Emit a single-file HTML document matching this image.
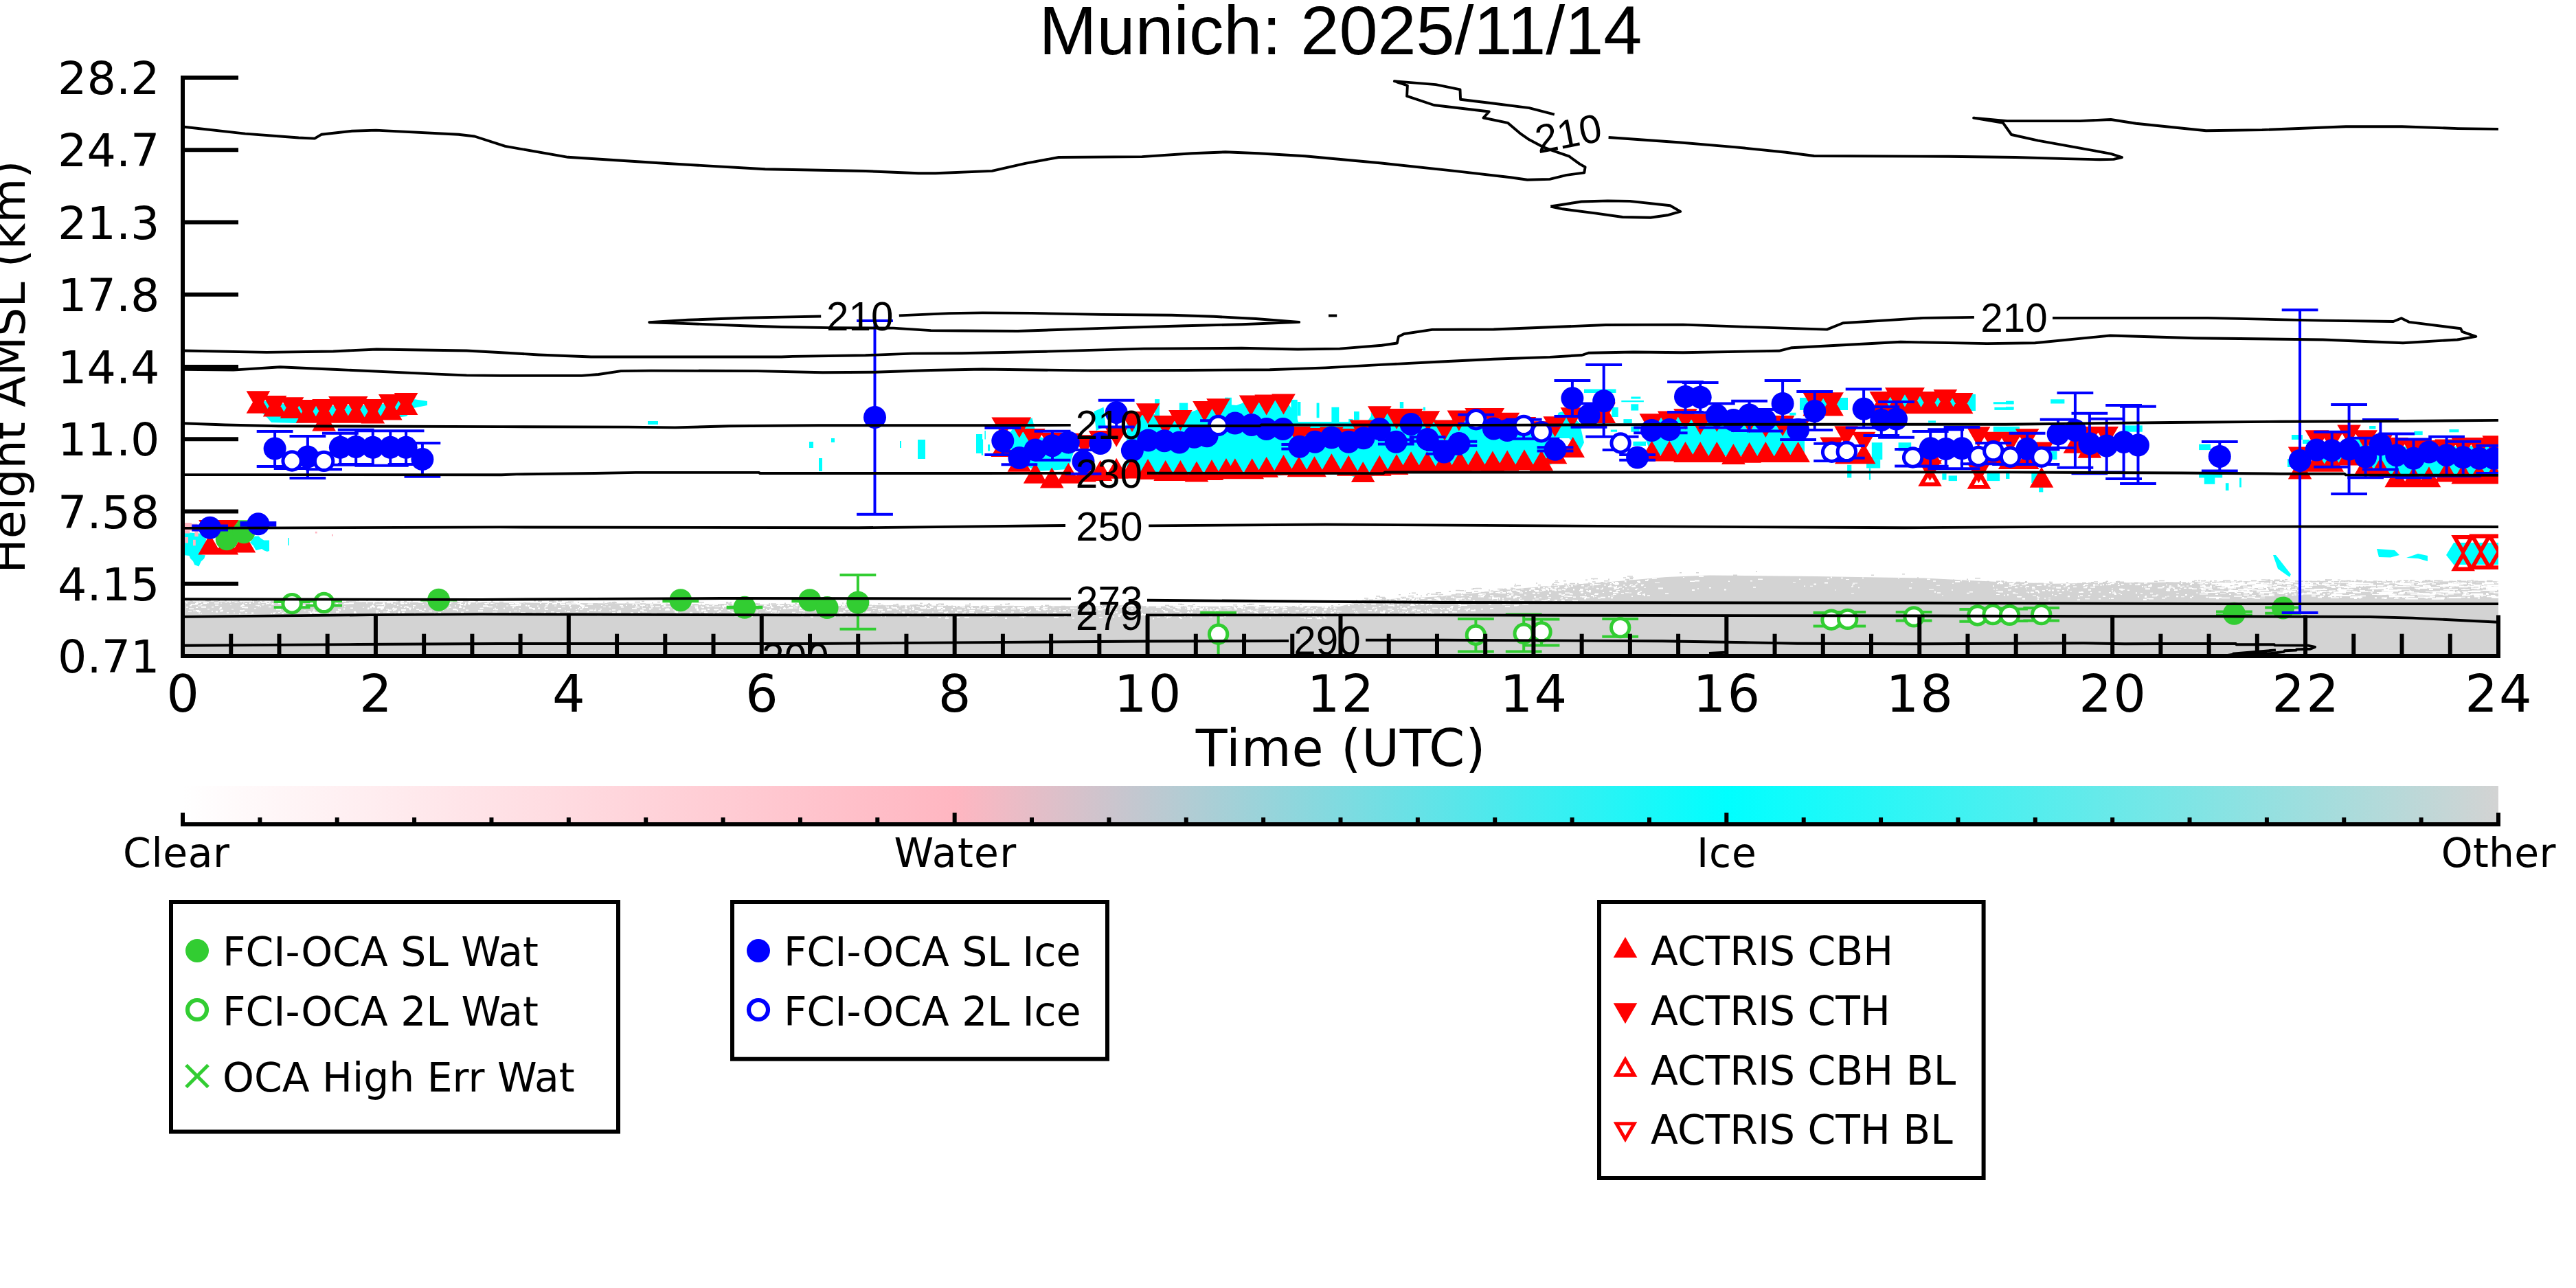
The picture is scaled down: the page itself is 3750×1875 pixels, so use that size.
<!DOCTYPE html>
<html><head><meta charset="utf-8"><title>Munich: 2025/11/14</title>
<style>
html,body{margin:0;padding:0;background:#fff;}
body{width:3750px;height:1875px;overflow:hidden;}
svg{display:block;}
.dj{font-family:"DejaVu Sans","Liberation Sans",sans-serif;fill:#000;}
.lb{font-family:"Liberation Sans","DejaVu Sans",sans-serif;fill:#000;}
</style></head><body>
<svg width="3750" height="1875" viewBox="0 0 3750 1875">
<defs>
<linearGradient id="cb" x1="0" x2="1" y1="0" y2="0">
<stop offset="0" stop-color="#ffffff"/><stop offset="0.3333" stop-color="#ffb6c1"/><stop offset="0.6667" stop-color="#00ffff"/><stop offset="1" stop-color="#d3d3d3"/>
</linearGradient>
<clipPath id="ax"><rect x="266" y="100" width="3371" height="855"/></clipPath>
</defs>
<rect x="0" y="0" width="3750" height="1875" fill="#fff"/>

<g clip-path="url(#ax)">
<path d="M266.0 875.5 L700.0 877.0 L1400.0 882.0 L1950.0 883.0 L1985.0 874.0 L2100.0 868.0 L2220.0 856.0 L2345.0 847.0 L2426.0 840.0 L2489.0 837.5 L2643.0 839.0 L2800.0 841.6 L2909.0 847.0 L2990.0 849.8 L3072.0 848.4 L3208.0 847.0 L3343.0 845.7 L3500.0 847.0 L3637.0 846.4 L3637.0 956.0 L266.0 956.0Z" fill="#d3d3d3"/>
<path d="M1357 890.6h2v1h-2zM1498 888.3h2v1h-2zM1727 883.1h3v1h-3zM3050 851.3h5v1h-5zM2209 880.2h2v1.5h-2zM1242 881.6h3v1.5h-3zM900 888.6h4v1h-4zM2350 855.8h7v1.5h-7zM1484 883.4h7v1.5h-7zM543 882.4h3v2h-3zM665 888.1h2v2h-2zM1412 888.0h7v2h-7zM499 878.7h5v1h-5zM3033 854.8h5v1.5h-5zM833 878.2h7v1.5h-7zM703 881.2h7v2h-7zM539 883.4h2v2h-2zM3174 853.8h3v2h-3zM3490 848.7h18v1.5h-18zM881 879.2h4v1.5h-4zM2319 849.9h7v1h-7zM3470 856.8h8v2h-8zM477 877.9h2v1h-2zM1412 882.0h2v1h-2zM3460 847.1h12v2h-12zM768 881.0h3v2h-3zM3609 854.6h4v1h-4zM2005 895.3h3v1.5h-3zM3323 848.4h12v1.5h-12zM924 882.9h7v1.5h-7zM2926 849.6h4v1.5h-4zM3592 851.9h3v1.5h-3zM1849 888.5h4v1h-4zM2958 861.6h3v1.5h-3zM1876 894.8h3v1h-3zM1600 898.0h5v1.5h-5zM840 879.0h3v1.5h-3zM2325 856.3h3v1.5h-3zM2114 866.7h5v1h-5zM3047 851.9h3v1.5h-3zM3288 863.9h8v1.5h-8zM2057 870.3h3v1.5h-3zM2315 850.5h2v2h-2zM2351 846.9h5v2h-5zM2906 856.9h2v1.5h-2zM2062 891.9h5v1.5h-5zM3372 848.1h4v2h-4zM677 877.3h2v2h-2zM3238 849.2h8v2h-8zM3612 853.1h6v1h-6zM2697 849.8h3v1h-3zM551 891.1h2v1.5h-2zM3450 856.0h12v2h-12zM1699 898.0h5v1h-5zM2965 867.9h2v1.5h-2zM3170 852.1h4v2h-4zM3385 847.2h18v1.5h-18zM3424 849.6h4v1.5h-4zM2383 846.0h3v1.5h-3zM3613 846.6h12v1.5h-12zM1998 878.4h5v2h-5zM3258 850.6h4v1.5h-4zM3596 865.0h3v1.5h-3zM1717 891.8h3v1.5h-3zM2282 851.7h2v1.5h-2zM1173 884.1h3v1.5h-3zM1309 881.4h3v1h-3zM285 876.0h3v1h-3zM1593 890.8h2v1.5h-2zM3225 851.3h4v1.5h-4zM3268 861.5h12v1.5h-12zM3329 856.1h3v1.5h-3zM554 885.1h2v2h-2zM2380 857.5h3v1.5h-3zM2068 870.1h5v2h-5zM1116 882.3h5v1.5h-5zM1235 889.4h2v1h-2zM2285 863.9h5v1.5h-5zM2358 854.0h3v1.5h-3zM3540 849.3h6v1.5h-6zM3418 853.8h12v2h-12zM3612 867.6h3v1h-3zM3473 864.6h6v1h-6zM3288 846.3h8v2h-8zM1668 883.2h3v1h-3zM1360 886.0h2v1h-2zM3301 851.6h8v1h-8zM1481 884.6h2v1.5h-2zM1107 886.1h2v1.5h-2zM2909 847.1h7v2h-7zM3341 855.5h3v1h-3zM3408 857.8h18v1.5h-18zM2119 872.6h3v1.5h-3zM2120 870.7h7v2h-7zM1089 886.8h3v1.5h-3zM948 892.6h3v2h-3zM2048 889.5h2v1.5h-2zM3285 858.7h6v1h-6zM696 888.3h7v2h-7zM3525 847.4h12v2h-12zM3539 847.7h4v1h-4zM3435 859.0h8v1h-8zM2123 882.3h2v1h-2zM698 885.6h5v1h-5zM603 892.2h2v2h-2zM3620 850.7h4v2h-4zM2038 871.3h3v1.5h-3zM454 890.3h5v2h-5zM541 881.1h3v1.5h-3zM1601 885.1h7v1h-7zM1044 890.7h3v1h-3zM3470 848.7h8v2h-8zM3331 856.8h3v1.5h-3zM887 888.6h3v1h-3zM3624 851.0h18v2h-18zM1542 885.5h2v1h-2zM278 879.1h2v1.5h-2zM1770 893.4h3v1h-3zM2393 854.7h3v1h-3zM2970 851.2h2v1.5h-2zM1489 898.0h2v1.5h-2zM3377 860.7h18v1h-18zM350 881.4h3v2h-3zM3009 857.9h2v1.5h-2zM2311 853.8h3v1h-3zM1990 874.8h3v1h-3zM2100 874.7h2v1h-2zM1159 880.8h3v2h-3zM851 883.4h5v1.5h-5zM3097 858.4h3v1.5h-3zM1100 880.9h4v1.5h-4zM1366 898.6h4v1.5h-4zM1829 882.8h7v1.5h-7zM404 876.7h2v1.5h-2zM3397 865.5h12v1.5h-12zM394 876.1h3v1h-3zM2284 853.6h2v1.5h-2zM1644 890.8h2v1.5h-2zM1895 895.0h5v1.5h-5zM1647 885.3h2v1.5h-2zM1661 893.9h7v1.5h-7zM1729 883.2h2v2h-2zM2212 873.1h2v1h-2zM442 888.4h3v1h-3zM1438 883.3h2v1h-2zM3266 865.5h8v1.5h-8zM3057 851.1h3v1.5h-3zM1558 884.4h5v1.5h-5zM2816 860.8h2v2h-2zM2285 863.3h3v2h-3zM1305 885.4h3v2h-3zM1962 879.9h3v2h-3zM628 881.6h2v2h-2zM405 891.0h3v1h-3zM3619 864.1h4v2h-4zM1116 888.1h7v2h-7zM3363 849.1h4v1.5h-4zM1520 886.6h5v1.5h-5zM3205 857.6h6v2h-6zM1532 883.2h3v1h-3zM1756 893.5h2v1.5h-2zM3026 861.5h7v1.5h-7zM1014 887.7h3v1.5h-3zM3281 848.9h3v1h-3zM2065 873.8h2v1.5h-2zM802 889.9h5v1.5h-5zM1785 883.6h5v1.5h-5zM1620 882.4h5v1.5h-5zM2269 863.7h4v2h-4zM1634 882.7h7v1h-7zM3433 848.6h18v2h-18zM3004 853.7h3v1h-3zM3612 854.4h3v2h-3zM1790 883.3h2v1h-2zM3380 849.3h6v2h-6zM3537 868.3h3v1h-3zM3100 849.6h3v1.5h-3zM3229 849.6h18v2h-18zM289 891.5h2v1.5h-2zM2923 858.2h4v1.5h-4zM754 878.0h2v1.5h-2zM3556 846.9h18v1h-18zM3344 846.6h4v1h-4zM3333 846.4h18v1.5h-18zM1873 894.8h5v1.5h-5zM1259 883.3h3v1.5h-3zM3397 862.0h12v2h-12zM372 880.8h7v1h-7zM2077 888.4h2v1.5h-2zM841 879.6h7v1h-7zM1222 890.7h3v1.5h-3zM2380 850.0h3v1h-3zM1519 887.0h4v1.5h-4zM2056 886.0h5v1h-5zM1440 883.1h7v2h-7zM838 889.6h4v1.5h-4zM3246 848.7h18v1.5h-18zM1441 898.0h3v1h-3zM925 879.6h3v1.5h-3zM1731 891.3h2v1.5h-2zM962 879.0h3v2h-3zM2395 843.9h4v2h-4zM287 889.0h5v2h-5zM1037 880.2h3v1.5h-3zM3278 852.4h18v1.5h-18zM1109 885.1h4v2h-4zM2011 892.2h5v1.5h-5zM3432 847.2h8v1.5h-8zM2023 894.2h2v1.5h-2zM1464 884.6h3v1h-3zM313 880.3h5v1.5h-5zM2220 860.0h3v1.5h-3zM3613 854.0h4v1h-4zM1843 889.7h2v2h-2zM1168 882.5h3v1.5h-3zM2956 861.3h3v2h-3zM782 881.6h2v1.5h-2zM2906 865.0h5v1h-5zM510 884.4h4v1.5h-4zM3141 855.0h7v1.5h-7zM970 885.6h4v1h-4zM2054 877.4h2v1h-2zM1158 881.2h3v1h-3zM1942 888.4h3v2h-3zM3632 848.3h18v1h-18zM337 886.5h3v1h-3zM3287 860.8h4v1.5h-4zM1224 882.9h2v1.5h-2zM3548 863.7h4v1.5h-4zM3540 870.7h18v2h-18zM2103 871.7h2v1h-2zM2316 865.9h4v2h-4zM2343 861.1h4v1h-4zM609 876.8h7v1h-7zM3343 851.1h4v1.5h-4zM2159 866.1h3v1h-3zM1339 890.3h2v2h-2zM2177 861.3h7v2h-7zM1770 886.8h4v1.5h-4zM1867 883.4h5v2h-5zM982 879.0h2v1h-2zM3519 866.4h8v1h-8zM3372 861.4h4v1h-4zM3262 846.8h3v1h-3zM3018 853.5h5v1.5h-5zM3490 858.3h6v2h-6zM1848 899.0h2v1.5h-2zM3477 864.0h8v2h-8zM3447 856.8h6v1h-6zM2360 862.9h4v1.5h-4zM320 888.6h4v2h-4zM3553 852.6h12v1.5h-12zM2984 849.6h3v1.5h-3zM2192 877.7h7v2h-7zM1435 889.1h7v2h-7zM3402 857.5h8v2h-8zM2241 860.2h4v1h-4zM2072 869.9h3v1.5h-3zM3245 854.5h4v1.5h-4zM984 891.3h3v1.5h-3zM2212 873.3h7v1.5h-7zM543 876.5h3v1h-3zM585 890.4h4v2h-4zM2242 875.8h3v2h-3zM595 884.4h4v1.5h-4zM1122 881.5h2v2h-2zM549 883.6h7v2h-7zM3278 858.6h18v1h-18zM1776 898.8h5v1.5h-5zM3434 856.3h3v1.5h-3zM456 887.3h2v1.5h-2zM2252 866.3h3v1.5h-3zM1518 886.1h3v1.5h-3zM3344 853.4h3v1.5h-3zM3389 867.7h6v1.5h-6zM3383 846.1h8v1.5h-8zM1353 882.3h3v1.5h-3zM3260 847.9h8v1.5h-8zM792 890.7h3v1.5h-3zM1145 885.4h3v1h-3zM2391 864.4h4v2h-4zM3078 864.1h3v2h-3zM3602 867.9h8v1.5h-8zM1666 895.4h3v1.5h-3zM3560 864.1h12v1.5h-12zM3442 851.7h8v1.5h-8zM1199 893.7h4v1.5h-4zM535 884.5h3v1.5h-3zM858 887.4h5v1.5h-5zM2229 855.8h5v2h-5zM2012 876.2h5v2h-5zM572 887.9h2v1.5h-2zM3584 860.8h12v1h-12zM3527 852.0h6v2h-6zM1249 891.5h3v1h-3zM2053 870.5h2v1.5h-2zM2351 850.7h4v1h-4zM1829 887.8h3v1h-3zM2680 840.7h3v1.5h-3zM638 890.9h4v1.5h-4zM3165 857.9h5v2h-5zM3422 852.9h12v1h-12zM1077 884.6h4v1.5h-4zM3490 849.9h18v1h-18zM501 882.4h2v1.5h-2zM3243 846.8h12v1.5h-12zM3356 857.8h3v1h-3zM1235 889.7h2v1h-2zM1996 878.8h4v1.5h-4zM3246 857.2h4v1h-4zM1014 886.1h3v2h-3zM3268 854.3h6v1h-6zM1083 886.0h3v2h-3zM308 889.2h2v1.5h-2zM2141 867.6h2v1.5h-2zM459 883.1h4v1.5h-4zM1748 886.7h3v1.5h-3zM1402 891.4h4v1.5h-4zM3345 865.2h8v1h-8zM2192 875.4h7v1h-7zM1253 888.0h3v1.5h-3zM3597 850.5h6v1.5h-6zM1734 884.5h7v1.5h-7zM955 893.6h2v1h-2zM3626 855.4h8v2h-8zM1830 892.2h3v1h-3zM601 881.0h4v1.5h-4zM3228 855.0h12v1.5h-12zM578 880.4h2v1.5h-2zM1992 888.0h5v1.5h-5zM3256 848.0h12v1.5h-12zM1966 880.1h5v1h-5zM2409 847.8h7v1h-7zM281 888.7h4v1h-4zM2201 859.0h2v1h-2zM366 891.5h3v2h-3zM477 887.7h3v1.5h-3zM838 878.5h4v1h-4zM1442 886.1h2v1.5h-2zM3264 869.0h3v1.5h-3zM1107 895.2h7v1.5h-7zM3013 860.6h3v1h-3zM1085 890.1h2v2h-2zM1087 883.4h2v1h-2zM3536 856.9h6v2h-6zM3502 867.9h4v2h-4zM911 880.5h2v1.5h-2zM580 889.6h2v2h-2zM1076 881.4h3v2h-3zM2385 847.4h3v1.5h-3zM2245 857.2h4v1.5h-4zM2841 858.2h2v1.5h-2zM1047 893.8h2v1.5h-2zM564 889.1h3v1.5h-3zM3419 851.7h18v1.5h-18zM3285 860.4h4v2h-4zM879 893.1h5v1.5h-5zM2665 839.6h2v2h-2zM934 882.7h2v1.5h-2zM2167 869.7h4v1.5h-4zM3382 856.5h3v1.5h-3zM3299 856.9h3v1.5h-3zM2559 842.5h7v1.5h-7zM1214 896.3h3v2h-3zM3397 861.4h18v2h-18zM1915 898.7h7v1.5h-7zM855 889.8h2v1.5h-2zM1108 883.6h3v1h-3zM946 879.6h5v2h-5zM1450 896.2h2v1.5h-2zM2112 868.4h5v1.5h-5zM2282 867.6h7v1.5h-7zM653 880.5h2v1h-2zM471 877.7h5v1.5h-5zM1775 885.8h3v1.5h-3zM3564 862.2h18v1.5h-18zM1729 889.4h2v1.5h-2zM3361 857.8h18v1.5h-18zM2782 847.3h2v1.5h-2zM2343 859.7h3v1.5h-3zM1042 894.4h7v1.5h-7zM1073 886.9h5v2h-5zM3313 854.3h18v1.5h-18zM3617 858.4h18v1.5h-18zM818 894.1h2v1h-2zM3130 850.3h3v1h-3zM750 877.6h5v2h-5zM3264 846.5h4v1.5h-4zM1542 894.5h5v1.5h-5zM2177 869.9h4v2h-4zM2373 850.7h4v1h-4zM2997 863.0h4v1.5h-4zM2169 866.5h5v1.5h-5zM1275 895.3h2v1.5h-2zM2216 878.4h3v1.5h-3zM2168 862.1h2v1.5h-2zM2112 886.0h3v1h-3zM3327 864.7h3v2h-3zM3457 869.2h3v2h-3zM3061 850.3h2v2h-2zM2879 848.3h3v1h-3zM985 889.2h3v1h-3zM3197 862.6h3v1h-3zM3045 854.3h5v1.5h-5zM2696 851.1h2v1.5h-2zM918 891.6h4v2h-4zM650 877.5h7v1.5h-7zM1549 896.2h4v1.5h-4zM3460 851.5h8v2h-8zM3205 847.2h12v2h-12zM2007 882.1h3v1.5h-3zM2250 855.5h3v2h-3zM3421 851.0h6v1.5h-6zM3586 848.0h4v1.5h-4zM1561 899.1h3v1.5h-3zM3606 856.6h3v1.5h-3zM3204 860.5h6v1.5h-6zM1634 885.8h3v2h-3zM775 891.8h5v2h-5zM1630 894.0h2v1h-2zM515 891.5h4v1.5h-4zM1291 886.7h7v2h-7zM3089 850.0h3v1h-3zM1065 879.8h3v1.5h-3zM3272 854.9h4v1.5h-4zM2290 868.5h4v1.5h-4zM2687 843.1h5v1h-5zM982 890.0h5v2h-5zM1404 886.5h2v1h-2zM2375 852.8h4v2h-4zM582 877.5h7v1h-7zM1472 885.6h5v1.5h-5zM3556 850.3h12v1.5h-12zM712 882.7h5v1.5h-5zM3420 847.4h12v1.5h-12zM2136 886.3h3v1.5h-3zM3305 865.1h4v1h-4zM3299 848.5h3v1h-3zM2488 854.9h3v1.5h-3zM3447 849.1h3v1.5h-3zM1460 886.8h3v1.5h-3zM3226 870.2h4v2h-4zM3036 853.6h3v1.5h-3zM2278 862.4h7v1.5h-7zM1745 883.5h3v1h-3zM2976 870.2h2v1.5h-2zM596 886.2h2v2h-2zM3564 849.4h18v1h-18zM1047 880.1h2v1h-2zM3601 866.3h8v1.5h-8zM2035 873.9h4v1.5h-4zM2398 866.2h4v1.5h-4zM1021 889.3h2v1.5h-2zM929 890.6h3v1.5h-3zM2114 889.9h7v1.5h-7zM1611 887.0h2v2h-2zM3602 859.5h12v1h-12zM3324 859.8h18v2h-18zM2115 889.5h2v2h-2zM3614 858.5h8v1.5h-8zM2038 884.6h3v1h-3zM2384 846.2h4v1.5h-4zM3153 858.4h4v1.5h-4zM3630 862.2h12v1.5h-12zM1071 892.3h3v1.5h-3zM3275 846.6h6v2h-6zM682 879.1h2v1.5h-2zM2022 872.7h3v1.5h-3zM3622 853.7h18v1.5h-18zM2020 877.6h3v2h-3zM271 883.2h3v1.5h-3zM3353 849.1h3v2h-3zM3157 854.1h7v1.5h-7zM2346 847.1h3v2h-3zM1261 889.9h7v1.5h-7zM1453 889.6h4v1.5h-4zM3557 857.4h18v1.5h-18zM1376 893.0h3v2h-3zM2037 891.8h7v1h-7zM3414 853.2h4v1h-4zM1619 891.9h4v1.5h-4zM665 877.2h7v1h-7zM610 887.8h4v2h-4zM3626 866.0h6v1.5h-6zM2017 878.0h5v1.5h-5zM2137 870.8h2v1.5h-2zM1133 880.3h4v1.5h-4zM3405 860.6h6v1.5h-6zM2139 868.3h4v1h-4zM1356 893.8h3v1.5h-3zM2260 874.8h3v1.5h-3zM3222 853.7h3v1h-3zM3007 849.5h5v1.5h-5zM964 879.4h7v1h-7zM3467 859.6h18v2h-18zM1256 888.5h3v1.5h-3zM1309 888.3h2v1.5h-2zM3449 849.2h6v2h-6zM793 886.7h5v1h-5zM935 880.0h3v2h-3zM3619 855.6h8v1.5h-8zM3260 848.7h6v1h-6zM3310 850.0h12v1h-12zM3522 868.9h6v1h-6zM847 883.7h3v1.5h-3zM1271 888.2h2v1h-2zM1820 889.0h2v2h-2zM2212 862.3h5v1.5h-5zM571 885.4h7v2h-7zM1289 881.8h2v1h-2zM783 884.4h3v2h-3zM410 891.7h3v2h-3zM3324 855.3h3v1h-3zM624 888.7h5v1.5h-5zM1157 884.5h4v1h-4zM477 884.1h2v1h-2zM856 878.5h7v2h-7zM2259 857.5h3v2h-3zM3379 860.3h3v2h-3zM1378 889.8h2v1.5h-2zM3183 852.6h3v1h-3zM1937 892.8h3v1h-3zM2917 865.7h2v1.5h-2zM3323 860.3h18v2h-18zM3436 852.7h4v1.5h-4zM1703 885.4h4v1h-4zM3467 854.6h12v1.5h-12zM1807 884.4h3v2h-3zM1251 883.3h5v2h-5zM1081 888.2h3v1.5h-3zM1579 883.3h2v1.5h-2zM3235 850.9h12v1.5h-12zM1583 895.7h2v1.5h-2zM1112 880.5h4v2h-4zM1120 886.3h3v2h-3zM1164 883.2h5v2h-5zM3423 846.7h8v2h-8zM3266 862.0h6v2h-6zM3267 857.2h12v1h-12zM3624 857.3h18v1.5h-18zM3508 860.7h6v1.5h-6zM3072 848.7h4v1.5h-4zM3274 863.8h4v1.5h-4zM1317 884.2h3v1.5h-3zM3505 851.1h4v1.5h-4zM3390 859.6h8v1.5h-8zM1166 895.1h3v2h-3zM1327 892.7h3v2h-3zM2049 882.7h3v2h-3zM2863 862.8h4v1.5h-4zM1161 880.6h4v1h-4zM642 885.6h5v1h-5zM3431 851.2h8v1.5h-8zM1444 895.9h4v2h-4zM717 877.4h3v1h-3zM3290 861.6h18v2h-18zM3224 861.0h8v1.5h-8zM2303 861.4h2v1.5h-2zM3547 852.0h12v1h-12zM2254 853.7h4v2h-4zM640 885.3h3v1.5h-3zM2053 880.4h7v1.5h-7zM2211 859.4h2v1h-2zM2995 855.2h5v1.5h-5zM2249 873.3h2v1.5h-2zM3502 870.5h18v2h-18zM2204 880.5h5v2h-5zM644 888.1h2v1h-2zM1743 892.7h2v1.5h-2zM3087 865.0h2v1h-2zM479 876.3h7v1.5h-7zM2144 873.8h3v1.5h-3zM1297 882.5h3v2h-3zM3292 853.6h6v1h-6zM3155 867.5h3v1h-3zM3335 853.7h4v1h-4zM2045 876.7h3v1.5h-3zM918 891.1h4v2h-4zM1737 883.2h5v2h-5zM3542 863.4h12v1h-12zM3156 857.6h3v2h-3zM293 879.2h2v1h-2zM2257 855.5h3v2h-3zM3230 847.8h12v2h-12zM479 892.9h2v1h-2zM2763 841.7h2v1h-2zM396 878.0h2v1h-2zM3398 867.3h3v1.5h-3zM3486 866.8h4v1.5h-4zM2983 858.4h2v2h-2zM3351 864.6h18v1h-18zM2268 853.1h2v1.5h-2zM2152 864.8h4v2h-4zM3576 847.3h6v1h-6zM563 890.6h2v1h-2zM1505 893.5h2v2h-2zM2854 844.8h2v1.5h-2zM2018 878.5h4v1.5h-4zM3351 862.8h3v1h-3zM3333 846.1h6v2h-6zM1127 891.9h7v1.5h-7zM363 876.9h2v2h-2zM3613 850.0h3v2h-3zM2077 878.8h3v1.5h-3zM1071 880.0h2v1h-2zM1698 882.8h2v2h-2zM3423 867.3h18v1h-18zM2322 850.3h5v1.5h-5zM1133 889.9h2v1.5h-2zM2348 862.0h2v1h-2zM2279 855.8h2v1h-2zM2070 870.1h4v1h-4zM3365 866.4h6v2h-6zM1202 882.0h2v1.5h-2zM1317 881.6h3v1h-3zM3083 851.4h2v1.5h-2zM477 878.6h2v1.5h-2zM1115 886.4h2v1.5h-2zM3327 861.8h3v1.5h-3zM1152 880.8h3v1.5h-3zM1058 884.5h2v1h-2zM583 882.2h2v1.5h-2zM1700 884.0h3v1.5h-3zM1761 886.0h2v1h-2zM3632 852.0h8v1h-8zM1074 893.3h2v1h-2zM547 891.6h3v1.5h-3zM1337 890.7h3v1h-3zM1888 882.9h5v1h-5zM737 881.4h3v1h-3zM3152 868.2h2v1.5h-2zM3128 870.9h7v1.5h-7zM1292 882.7h2v2h-2zM352 879.5h3v1.5h-3zM489 889.7h5v2h-5zM3316 853.7h8v1.5h-8zM1350 885.1h5v1h-5zM2181 862.7h7v1h-7zM2309 859.3h3v1.5h-3zM1189 895.3h4v1.5h-4zM460 877.3h4v2h-4zM2926 857.9h2v1.5h-2zM3487 868.8h3v1h-3zM3523 847.4h4v1.5h-4zM660 885.9h4v1.5h-4zM3291 848.2h12v1.5h-12zM2187 873.2h3v1.5h-3zM2626 852.4h2v1.5h-2zM2958 856.6h5v1.5h-5zM1834 899.1h3v1h-3zM3490 853.2h18v1.5h-18zM3244 859.1h12v2h-12zM3438 851.6h8v1.5h-8zM809 893.8h7v1.5h-7zM3519 863.0h18v1.5h-18zM818 883.1h5v1h-5zM935 885.3h5v1.5h-5zM3084 851.3h2v1.5h-2zM2910 847.1h2v1h-2zM3531 851.5h6v1.5h-6zM3211 868.4h4v1.5h-4zM2153 864.1h5v2h-5zM2966 859.7h2v2h-2zM1046 888.7h4v2h-4zM733 884.8h2v2h-2zM1078 884.4h4v1.5h-4zM2705 854.8h2v1.5h-2zM1796 884.1h3v1.5h-3zM709 882.4h3v1.5h-3zM1329 884.6h2v1.5h-2zM1093 882.9h7v1.5h-7zM1313 890.5h4v2h-4zM1739 894.9h4v1.5h-4zM3424 860.6h8v1.5h-8zM2349 854.0h5v1.5h-5zM3442 846.9h12v1h-12zM1277 892.2h7v1.5h-7zM1739 886.8h2v1h-2zM1635 886.5h7v2h-7zM3266 856.3h6v2h-6zM2300 857.9h5v1.5h-5zM1408 884.2h3v1.5h-3zM3552 851.0h18v1.5h-18zM458 878.1h3v1h-3zM2917 847.5h2v1.5h-2zM1035 893.5h3v1.5h-3zM1528 886.2h2v1.5h-2zM845 880.9h4v1.5h-4zM2463 858.0h4v2h-4zM3451 854.1h4v1.5h-4zM1482 882.8h2v1h-2zM1032 879.7h5v1h-5zM3477 858.9h8v1.5h-8zM3294 850.3h6v1h-6zM3282 853.4h18v1.5h-18zM967 882.6h5v1h-5zM348 892.7h2v1.5h-2zM1468 893.1h7v1h-7zM3607 852.2h3v2h-3zM947 882.0h5v1.5h-5zM2303 868.2h7v1.5h-7zM2123 885.1h3v1h-3zM3376 846.1h18v1.5h-18zM2152 874.9h7v1h-7zM1140 884.8h4v2h-4zM2080 886.9h2v1.5h-2zM3310 856.8h3v2h-3zM3380 868.0h3v1h-3zM3288 852.6h8v1.5h-8zM1093 880.9h3v1.5h-3zM2348 848.3h2v2h-2zM554 879.5h4v1.5h-4zM1854 890.6h2v1.5h-2zM1052 883.5h2v2h-2zM2111 883.6h3v1.5h-3zM2353 859.0h5v1h-5zM3461 852.0h8v1.5h-8zM2253 858.4h2v2h-2zM3550 864.2h8v1.5h-8zM3394 854.0h6v2h-6zM2319 867.9h2v1.5h-2zM2959 866.2h5v1h-5zM1196 893.2h2v2h-2zM341 876.0h7v1.5h-7zM762 877.7h3v1h-3zM3330 855.6h4v2h-4zM3085 856.7h5v2h-5zM693 877.4h2v1h-2zM399 885.8h2v1h-2zM1827 884.3h3v1.5h-3zM1730 884.8h2v2h-2zM3547 861.0h4v1.5h-4zM3271 858.3h3v2h-3zM2052 870.7h3v1h-3zM2290 857.0h2v1h-2zM3346 847.0h18v2h-18zM3109 862.2h2v2h-2zM3497 868.5h4v1.5h-4zM3279 870.1h18v1h-18zM3601 850.9h12v1.5h-12zM2963 859.3h4v2h-4zM3471 870.4h3v1.5h-3zM1708 887.1h3v2h-3zM2640 849.8h2v1h-2zM2307 869.6h7v1.5h-7zM542 880.3h2v2h-2zM3075 848.8h3v1.5h-3zM2041 884.9h5v1.5h-5zM1858 893.9h2v1.5h-2zM2088 869.8h5v2h-5zM3154 856.2h3v2h-3zM354 887.8h2v1.5h-2zM891 890.9h2v1.5h-2zM3088 849.8h2v2h-2zM3153 850.7h2v1.5h-2zM480 884.6h3v1.5h-3zM3504 848.5h3v1.5h-3zM1631 883.3h3v2h-3zM1927 886.7h4v2h-4zM3570 857.4h8v1.5h-8zM1324 883.0h2v1.5h-2zM1799 894.4h5v1.5h-5zM902 881.1h5v1.5h-5zM1683 882.8h4v1h-4zM639 877.3h2v1h-2zM563 890.9h5v1h-5zM2001 887.5h4v1.5h-4zM312 876.9h7v1.5h-7zM2002 895.9h3v1h-3zM3569 862.2h12v1.5h-12zM342 876.0h3v2h-3zM2122 886.2h3v1.5h-3zM815 878.4h7v1h-7zM2200 864.3h4v1h-4zM3607 870.1h3v1.5h-3zM935 890.3h7v1h-7zM1408 893.2h2v2h-2zM1090 882.7h3v1h-3zM826 878.6h7v1.5h-7zM1226 880.9h4v1.5h-4zM1986 883.3h3v1.5h-3zM3304 848.6h3v1.5h-3zM1236 882.9h5v1.5h-5zM1017 889.0h3v1h-3zM792 884.5h3v1h-3zM1119 895.1h4v2h-4zM3008 850.8h3v2h-3zM3552 861.3h3v1h-3zM2965 851.4h5v1.5h-5zM1741 883.1h5v2h-5zM280 879.1h7v1.5h-7zM3620 867.3h12v2h-12zM3529 869.0h12v1.5h-12zM1315 891.9h2v1.5h-2zM3598 859.4h12v1h-12zM2009 894.1h4v2h-4zM2098 886.2h2v1.5h-2zM1472 885.8h7v1.5h-7zM1186 884.2h2v2h-2zM3504 860.2h4v1.5h-4zM1401 894.1h5v1.5h-5zM1908 885.3h3v1h-3zM1746 885.6h5v1.5h-5zM1093 881.0h2v2h-2zM1694 894.3h4v1h-4zM643 883.0h4v1.5h-4zM3588 848.5h3v1.5h-3zM652 877.6h2v1.5h-2zM2195 859.3h5v1.5h-5zM2201 858.1h3v1h-3zM1984 876.0h3v2h-3zM3347 848.3h8v1.5h-8zM1390 890.5h4v1.5h-4zM451 878.0h4v1.5h-4zM2113 883.9h2v1.5h-2zM3426 850.5h4v1h-4zM886 882.8h3v1.5h-3zM3360 851.2h4v1h-4zM1472 890.3h4v1.5h-4zM1223 896.6h3v1h-3zM811 892.3h2v2h-2zM1481 883.4h5v2h-5zM3010 855.0h3v2h-3zM1857 884.1h5v1.5h-5zM2330 856.8h3v1.5h-3zM2120 874.0h4v1h-4zM721 886.7h4v1.5h-4zM1344 895.0h3v2h-3zM2118 866.6h2v1h-2zM2326 870.0h4v1.5h-4zM2020 892.4h3v1h-3zM1408 885.3h2v1h-2zM2128 865.5h3v1.5h-3zM1010 895.0h4v1.5h-4zM716 877.3h2v1.5h-2zM1820 888.5h4v1.5h-4zM1618 888.3h5v2h-5zM1698 898.8h2v1.5h-2zM1155 881.0h3v2h-3zM3202 864.0h12v1.5h-12zM3534 854.5h18v2h-18zM904 883.0h4v1.5h-4zM1728 883.1h5v1.5h-5zM1903 899.4h7v1.5h-7zM3585 857.6h4v1.5h-4zM2120 866.7h7v1h-7zM932 880.9h7v1h-7zM1152 880.2h3v1.5h-3zM1020 882.5h2v2h-2zM3618 846.7h8v2h-8zM1021 887.6h7v2h-7zM2054 873.9h7v2h-7zM3315 848.3h12v1.5h-12zM3177 852.7h3v1h-3zM1849 885.6h5v1.5h-5zM748 877.3h3v1h-3zM2017 872.8h2v1h-2zM2987 864.7h2v1.5h-2zM1508 886.4h4v2h-4zM3279 853.9h8v2h-8zM1547 887.9h5v2h-5zM1206 880.8h3v1.5h-3zM3208 854.0h12v1.5h-12zM844 880.5h7v1.5h-7zM681 877.3h4v2h-4zM3332 861.8h3v2h-3zM333 876.5h3v1h-3zM321 877.5h2v1h-2zM2127 865.7h3v2h-3zM2095 872.3h2v1h-2zM606 886.5h4v1.5h-4zM2200 865.4h3v1.5h-3zM2120 874.7h2v2h-2zM1413 885.1h7v1.5h-7zM3271 868.4h12v1.5h-12zM319 885.7h3v1.5h-3zM1611 891.3h3v1h-3zM2046 891.1h3v2h-3zM3552 859.6h12v2h-12zM3514 870.7h3v1h-3zM1867 886.7h7v1.5h-7zM841 885.3h2v2h-2zM1400 883.0h5v1.5h-5zM3562 869.7h6v1h-6zM1168 880.4h3v1.5h-3zM1546 895.9h3v1h-3zM1624 890.2h3v2h-3zM2226 858.5h3v1.5h-3zM3531 870.5h3v1h-3zM2383 863.7h3v1.5h-3zM3002 859.1h3v1.5h-3zM1611 892.5h4v1.5h-4zM1516 885.5h5v1.5h-5zM1337 889.8h7v1h-7zM3271 847.6h18v1.5h-18zM901 889.0h3v1h-3zM2393 865.8h2v2h-2zM1068 885.5h3v1h-3zM3620 851.1h3v1h-3zM3157 855.8h3v1h-3zM2239 854.7h3v1.5h-3zM617 885.8h3v2h-3zM2820 862.3h5v1.5h-5zM2516 845.6h2v1.5h-2zM2209 861.0h7v1h-7zM3391 867.1h18v1h-18zM420 885.3h2v1.5h-2zM3330 849.0h8v1.5h-8zM3563 858.3h3v1.5h-3zM3470 854.0h12v1.5h-12zM3415 849.7h3v1h-3zM3390 850.6h8v1.5h-8zM3399 846.4h8v1.5h-8zM785 892.2h2v1.5h-2zM3366 859.5h4v2h-4zM1195 887.3h2v1.5h-2zM3259 860.5h3v1.5h-3zM1299 883.8h7v2h-7zM1757 887.0h2v1.5h-2zM1618 887.6h2v2h-2zM2373 850.5h2v1.5h-2zM2245 859.1h3v1.5h-3zM1563 884.8h5v1h-5zM988 881.6h7v2h-7zM569 876.8h3v2h-3zM1131 880.6h4v1.5h-4zM1988 873.9h3v1.5h-3zM1533 890.9h5v1h-5zM3374 850.1h4v1.5h-4zM2327 850.0h3v1h-3zM3025 867.3h2v2h-2zM1651 894.6h5v1h-5zM1012 883.8h4v2h-4zM2398 843.3h2v1.5h-2zM2013 879.7h3v1.5h-3zM2187 862.1h5v2h-5zM1376 898.8h5v2h-5zM3004 853.5h2v1.5h-2zM2061 870.5h5v1.5h-5zM3360 849.8h4v1.5h-4zM2372 851.8h2v1.5h-2zM893 890.9h3v1.5h-3zM1290 883.6h2v1h-2zM2135 876.2h3v1h-3zM2195 860.8h5v1.5h-5zM2155 867.6h5v2h-5zM2203 868.5h5v2h-5zM2389 851.7h3v1.5h-3zM1914 894.4h2v1.5h-2zM1855 885.1h5v1.5h-5zM2279 853.8h3v2h-3zM1422 885.5h5v1.5h-5zM2211 871.9h2v1.5h-2zM592 882.9h3v2h-3zM3425 862.0h12v1.5h-12zM3486 851.4h4v2h-4zM1153 890.8h5v1.5h-5zM3477 852.1h6v1.5h-6zM670 879.0h4v2h-4zM1946 889.3h7v1h-7zM1868 883.7h3v1h-3zM1060 881.7h2v1.5h-2zM1524 891.4h2v2h-2zM2010 873.0h3v1h-3zM556 882.3h4v1.5h-4zM3476 855.7h8v1.5h-8zM1393 887.6h7v2h-7zM1911 889.0h2v2h-2zM2289 873.5h2v1.5h-2zM3546 869.3h12v1h-12zM2306 871.1h3v1.5h-3zM1194 895.6h3v1h-3zM1086 888.4h5v1.5h-5zM709 892.7h2v2h-2zM1678 899.4h2v2h-2zM3476 861.8h8v1.5h-8zM2966 868.7h3v1.5h-3zM1163 885.6h5v1.5h-5zM3595 846.6h4v1.5h-4zM1037 880.7h2v2h-2zM2134 880.9h2v1h-2zM666 877.5h5v1.5h-5zM2004 894.2h5v1h-5zM2194 865.3h3v1h-3zM1485 886.9h3v1.5h-3zM3537 846.9h3v2h-3zM1936 883.7h2v1.5h-2zM2169 861.3h5v1.5h-5zM3329 848.6h4v2h-4zM2948 854.1h2v1.5h-2zM3154 858.5h5v2h-5zM3346 852.4h3v2h-3zM3267 858.0h18v1h-18zM1684 897.7h5v1h-5zM2244 856.7h3v1h-3zM3470 858.1h6v2h-6zM3417 854.8h3v2h-3zM844 886.3h4v1.5h-4zM793 882.6h4v1.5h-4zM2244 874.0h5v1.5h-5zM3567 852.0h8v1.5h-8zM1390 898.4h7v1.5h-7zM3627 855.3h4v1.5h-4zM864 887.7h4v1.5h-4zM1725 884.8h2v1h-2zM1367 884.4h3v1.5h-3zM2172 871.3h2v1.5h-2zM3179 855.5h4v1.5h-4zM2128 880.6h7v1.5h-7zM1217 881.1h7v1h-7zM554 883.9h5v2h-5zM1411 890.4h7v1.5h-7zM641 878.8h4v2h-4zM824 878.3h5v1.5h-5zM3083 848.6h2v1.5h-2zM1972 891.7h5v1.5h-5zM2093 870.1h3v1.5h-3zM1766 885.5h2v1.5h-2zM2125 882.6h2v1.5h-2zM2307 865.2h2v1h-2zM2177 861.7h3v1.5h-3zM3175 848.1h2v2h-2zM1335 892.8h5v1h-5zM1518 883.2h7v2h-7zM1411 888.3h5v1.5h-5zM3237 860.6h18v1.5h-18zM1487 896.3h7v1.5h-7zM2382 856.6h3v1h-3zM2079 872.1h5v1.5h-5zM3476 858.6h18v1h-18zM3399 846.2h4v2h-4zM2055 871.8h4v2h-4zM3526 846.9h4v1.5h-4zM3127 852.5h5v2h-5zM2450 840.1h2v1h-2zM2185 862.7h3v1h-3zM2219 865.6h3v1.5h-3zM3047 849.9h3v1.5h-3zM1071 883.0h3v1.5h-3zM1232 885.4h5v2h-5zM2277 867.0h5v1.5h-5zM1230 886.2h4v1.5h-4zM3225 864.5h4v1.5h-4zM3580 846.7h6v2h-6zM2279 870.4h3v1.5h-3zM3324 849.9h3v1h-3zM1324 887.5h2v1.5h-2zM994 881.3h3v1.5h-3zM2068 879.0h5v1.5h-5zM350 875.8h2v1h-2zM3363 859.8h3v1.5h-3zM3491 863.6h8v2h-8zM3384 849.5h6v2h-6zM3123 867.0h2v1h-2zM1746 887.1h4v1.5h-4zM1711 883.0h5v1.5h-5zM699 884.7h5v1.5h-5zM1344 883.9h2v1h-2zM3567 847.2h4v1h-4zM1042 887.0h2v1.5h-2zM3412 854.0h6v2h-6zM2947 849.1h5v1h-5zM2318 850.9h3v1.5h-3zM3615 851.0h12v1.5h-12zM3629 868.3h12v1.5h-12zM952 895.4h2v1h-2zM3396 846.1h12v1h-12zM2022 895.5h5v1.5h-5zM2091 885.0h2v1.5h-2zM3483 865.5h3v1.5h-3zM3467 869.4h8v2h-8zM2362 856.3h2v2h-2zM1320 896.5h4v2h-4zM335 879.2h2v1h-2zM3305 846.1h3v2h-3zM2931 847.8h2v1.5h-2zM1599 892.0h4v1h-4zM2179 869.4h5v1h-5zM1029 882.7h7v1h-7zM938 878.7h2v1.5h-2zM3567 854.0h6v1h-6zM2196 868.6h2v1h-2zM595 877.4h2v1h-2zM1596 883.3h7v1.5h-7zM847 884.2h2v1.5h-2zM1001 882.0h4v1.5h-4zM2092 868.9h2v1.5h-2zM3112 849.5h4v1.5h-4zM722 880.3h2v1h-2zM1968 886.3h5v1h-5zM3069 849.7h4v2h-4zM2156 866.7h4v1.5h-4zM2382 849.4h2v1h-2zM3112 868.0h2v1.5h-2zM1763 889.9h7v2h-7zM1204 885.0h2v2h-2zM1054 880.1h7v1.5h-7zM964 883.0h3v1.5h-3zM2169 885.0h5v1.5h-5zM3495 862.9h4v2h-4zM1747 894.4h2v1h-2zM1914 893.0h5v1.5h-5zM3597 863.7h18v2h-18zM2610 847.1h4v1h-4zM3074 856.6h2v1h-2zM3234 869.7h12v1.5h-12zM2051 871.7h2v1h-2zM3532 851.9h6v2h-6zM286 877.2h3v1.5h-3zM1612 898.5h3v1h-3zM3054 848.9h2v1h-2zM3296 852.6h6v2h-6zM3357 849.3h4v2h-4zM3568 849.0h3v2h-3zM1128 891.5h2v1.5h-2zM1924 883.3h3v1.5h-3zM1135 886.1h2v1.5h-2zM1023 879.3h3v1.5h-3zM1224 883.4h7v1h-7zM3336 857.4h8v1.5h-8zM1849 893.2h4v1.5h-4zM3427 869.9h4v2h-4zM1124 891.7h7v1h-7zM3523 854.2h6v2h-6zM1357 883.0h2v1.5h-2zM3479 863.1h3v1h-3zM3381 865.7h4v1h-4zM2020 886.1h7v1.5h-7zM2082 879.5h3v1.5h-3zM583 877.0h3v1h-3zM1403 889.8h4v1h-4zM3527 847.9h8v1.5h-8zM2283 853.9h2v1h-2zM2322 867.7h2v1h-2zM528 883.8h2v1h-2zM584 878.6h4v1h-4zM878 882.9h4v1h-4zM651 885.8h2v1h-2zM1542 887.8h2v1.5h-2zM1828 890.7h3v1.5h-3zM2228 856.8h7v1.5h-7zM3029 861.1h3v1h-3zM2059 886.2h3v1.5h-3zM1464 895.1h5v1.5h-5zM1102 888.4h2v1h-2zM1401 891.6h2v2h-2zM615 878.9h2v1.5h-2zM3377 867.1h3v1.5h-3zM3419 846.3h4v1h-4zM2366 853.1h2v1.5h-2zM562 886.5h4v1h-4zM417 890.6h4v1.5h-4zM3630 869.1h6v2h-6zM3499 860.3h12v1.5h-12zM293 882.7h7v2h-7zM3215 857.4h6v1.5h-6zM3293 866.5h18v1.5h-18zM3312 846.5h12v2h-12zM3417 846.9h4v1.5h-4zM1925 892.1h5v1.5h-5zM1816 887.4h5v1.5h-5zM807 881.5h3v1h-3zM587 893.6h3v1h-3zM3630 853.2h18v1.5h-18zM2023 885.9h2v1.5h-2zM1253 893.5h7v2h-7zM1925 889.9h2v1.5h-2zM1555 888.5h2v1.5h-2zM1124 883.7h2v1.5h-2zM3228 851.9h4v1h-4zM1941 884.8h5v1h-5zM3302 849.6h4v1h-4zM601 883.4h2v2h-2zM3147 869.9h5v1.5h-5zM1576 890.4h4v1.5h-4zM3279 846.3h12v1h-12zM1924 893.3h4v2h-4zM3622 857.0h3v1.5h-3zM2156 863.9h7v1.5h-7zM3455 856.3h18v1.5h-18zM3186 855.2h5v1.5h-5zM467 879.4h2v1.5h-2zM1475 895.6h4v1.5h-4zM2389 850.7h4v1.5h-4zM3631 855.7h8v2h-8zM413 890.7h7v1h-7zM3556 865.7h8v1h-8zM1675 888.9h3v1h-3zM3474 847.9h6v1.5h-6zM2695 853.2h3v1.5h-3zM3387 852.9h12v1h-12zM2142 876.4h3v2h-3zM557 877.5h2v1.5h-2zM3249 849.3h4v1.5h-4zM3075 862.4h5v1.5h-5zM550 882.4h7v2h-7zM662 881.2h2v1.5h-2zM3601 865.8h18v1.5h-18zM3485 866.5h8v1h-8zM3148 853.1h3v1.5h-3zM2352 853.0h2v2h-2zM1192 894.3h4v1.5h-4zM408 888.9h2v1.5h-2zM459 891.5h7v1.5h-7zM920 880.3h2v1h-2zM2094 877.2h3v2h-3zM2635 852.7h4v1h-4zM3216 868.8h18v2h-18zM3397 859.2h3v1.5h-3zM2169 861.2h2v1.5h-2zM3602 855.6h8v2h-8zM547 888.5h4v2h-4zM2345 869.2h3v2h-3zM3275 862.4h4v1.5h-4zM1928 883.6h2v1.5h-2zM2054 878.5h4v2h-4zM3401 853.0h12v1.5h-12zM375 881.3h2v1.5h-2zM1025 890.4h5v2h-5zM2924 852.7h5v1h-5zM2083 875.2h5v1h-5zM2378 852.2h3v1h-3zM2321 864.4h5v1.5h-5zM948 884.2h2v1.5h-2zM1081 892.6h3v2h-3zM314 889.6h3v2h-3zM1928 899.0h3v1.5h-3zM3494 847.3h6v1.5h-6zM3383 847.3h6v1.5h-6zM854 892.7h3v1.5h-3zM3077 861.2h2v1h-2zM2973 859.0h4v1.5h-4zM3327 847.7h3v1.5h-3zM478 878.8h3v1h-3zM2349 854.5h4v1.5h-4zM810 891.1h5v1.5h-5zM3339 863.1h4v1h-4zM292 879.2h2v2h-2zM705 877.7h7v1h-7zM3278 855.5h4v1.5h-4zM1392 882.2h3v1.5h-3zM2233 859.0h7v1h-7zM1166 880.3h4v2h-4zM2146 887.2h2v1.5h-2zM3331 854.0h4v2h-4zM3278 866.1h6v1.5h-6zM2132 886.5h5v1h-5zM1768 888.6h2v1.5h-2zM1156 884.5h2v1h-2zM2975 849.4h4v1.5h-4zM3493 862.1h8v2h-8zM2010 895.0h3v1.5h-3zM2196 858.4h3v1.5h-3zM3530 854.5h6v1.5h-6zM1797 885.5h4v2h-4zM3188 868.8h3v2h-3zM1431 882.5h5v1.5h-5zM1659 894.8h4v1.5h-4zM2711 840.7h2v1.5h-2zM2976 851.1h2v1.5h-2zM3348 855.7h8v1.5h-8zM2205 866.9h4v1.5h-4zM3538 862.7h4v1h-4zM1238 891.3h3v1h-3zM1365 894.2h5v2h-5zM1217 882.0h2v1h-2zM3361 851.0h12v1.5h-12zM3607 846.9h4v1h-4zM2167 879.3h4v1.5h-4zM3374 860.0h12v1h-12zM2278 854.6h4v1.5h-4zM639 882.3h2v1.5h-2zM2805 842.5h5v1.5h-5zM1898 899.0h3v1.5h-3zM2254 869.3h4v1.5h-4zM987 885.4h7v1.5h-7zM2231 862.7h4v2h-4zM3232 863.4h8v1h-8zM1231 896.8h3v1.5h-3zM3493 866.7h6v1.5h-6zM1743 893.9h3v2h-3zM3351 847.5h4v1h-4zM457 891.0h5v2h-5zM1339 884.0h7v1.5h-7zM1256 890.9h2v1h-2zM3520 856.7h3v1.5h-3zM3583 849.6h3v1h-3zM563 876.8h5v1.5h-5zM274 889.8h5v1h-5zM3531 860.6h18v1h-18zM932 887.4h5v2h-5zM3287 855.2h8v2h-8zM1660 886.7h2v1.5h-2zM2952 861.9h2v1.5h-2zM557 877.0h3v2h-3zM2318 853.9h2v1h-2zM2187 879.5h5v1.5h-5zM3619 857.6h3v1.5h-3zM2065 876.3h5v1h-5zM3186 856.0h7v1h-7zM2101 885.2h2v1.5h-2zM3206 852.0h4v2h-4zM269 875.6h2v1.5h-2zM653 883.3h4v1.5h-4zM370 885.3h3v1h-3zM429 876.4h4v1h-4zM2083 892.1h5v1h-5zM2300 857.1h4v2h-4zM456 888.9h2v1h-2zM2344 849.1h2v1.5h-2zM3460 865.2h8v1h-8zM770 883.9h4v2h-4zM3527 864.7h18v2h-18zM3453 858.4h3v1.5h-3zM3182 847.3h3v1.5h-3zM3055 860.9h3v1.5h-3zM3573 851.8h4v1.5h-4zM3369 859.8h4v1.5h-4zM2246 854.8h3v1.5h-3zM3139 865.5h3v1.5h-3zM2256 857.8h7v1h-7zM1040 883.1h7v1h-7zM1735 886.4h2v1.5h-2zM1366 889.1h7v1.5h-7zM2979 857.5h2v1.5h-2zM678 887.6h4v1.5h-4zM584 887.0h7v2h-7zM351 880.9h5v1.5h-5zM3556 854.4h4v1h-4zM3461 854.8h12v1.5h-12zM2218 879.3h7v1.5h-7zM1431 885.4h4v1h-4zM2311 860.5h2v1.5h-2zM1787 889.8h3v2h-3zM2348 864.5h3v1.5h-3zM1786 886.3h7v1h-7zM3243 861.1h4v1h-4zM854 879.1h3v1h-3zM1729 886.5h4v1.5h-4zM2042 871.4h5v1h-5zM326 875.8h4v1.5h-4zM2028 880.9h2v2h-2zM3247 859.4h6v1.5h-6zM3433 867.5h4v1h-4zM2030 872.0h4v1h-4zM2307 855.4h5v1h-5zM1176 884.6h5v2h-5zM1655 886.5h4v1h-4zM1247 894.9h3v1h-3zM3438 849.1h6v1.5h-6zM3420 865.1h8v1h-8zM1937 890.6h5v2h-5zM3608 854.1h18v1.5h-18zM451 891.4h3v2h-3zM3574 849.2h12v2h-12zM2548 845.0h3v1.5h-3zM746 882.7h5v1h-5zM3240 847.9h4v1h-4zM2349 861.9h7v1.5h-7zM1334 882.0h5v1.5h-5zM1499 894.6h3v1.5h-3zM2930 862.3h4v2h-4zM1011 881.5h5v1.5h-5zM3475 852.6h6v1.5h-6zM1463 898.9h3v2h-3zM3403 851.4h3v1.5h-3zM1910 895.8h7v2h-7zM1695 889.8h5v2h-5zM3431 852.1h8v1h-8zM2941 853.3h3v1h-3zM3219 849.3h8v1.5h-8zM3186 847.4h4v1.5h-4zM3620 846.5h12v1h-12zM3263 870.0h8v1.5h-8zM1488 885.9h3v1.5h-3zM1004 892.5h5v2h-5zM3557 860.9h4v1h-4zM2091 871.7h5v1.5h-5zM3439 858.9h3v1h-3zM2123 879.3h4v2h-4zM2341 868.0h3v1.5h-3zM3061 867.2h3v1.5h-3zM1113 880.5h3v1.5h-3zM846 881.9h5v1.5h-5zM774 885.0h5v1h-5zM718 886.4h2v1.5h-2zM3382 847.6h18v1h-18zM3404 865.9h18v2h-18zM2233 867.8h3v2h-3zM3392 866.3h18v1.5h-18zM1427 886.4h2v1h-2zM1904 891.8h5v1.5h-5zM3394 864.8h6v2h-6zM3401 861.1h8v1h-8zM2032 873.5h5v2h-5zM1484 889.2h7v1h-7zM663 886.5h3v2h-3zM3204 856.5h3v2h-3zM3201 847.8h6v2h-6zM2231 872.8h3v1.5h-3zM572 884.5h2v1.5h-2zM456 877.3h5v2h-5zM1006 880.0h2v1.5h-2zM1121 880.2h2v2h-2zM3471 864.2h18v1.5h-18zM3477 865.2h8v1.5h-8zM2287 852.1h3v2h-3zM714 877.6h3v1.5h-3zM838 887.1h2v1h-2zM1728 886.3h3v1.5h-3zM1177 894.9h2v1.5h-2zM2271 870.6h3v1h-3zM3577 868.7h12v1h-12zM588 883.4h2v1.5h-2zM3120 871.7h5v2h-5zM3378 850.9h6v1h-6zM3451 862.2h3v1.5h-3zM376 876.9h3v1.5h-3zM3583 858.0h12v1h-12zM1805 883.6h5v1.5h-5zM3425 847.0h8v1.5h-8zM1499 887.4h2v2h-2zM2098 868.3h3v1h-3zM2013 888.5h4v2h-4zM2251 874.4h2v1h-2zM2352 860.8h3v2h-3zM1926 897.3h3v1.5h-3zM931 879.0h3v1.5h-3zM2021 880.8h7v1.5h-7zM3626 846.7h18v2h-18zM451 893.0h3v1.5h-3zM2135 865.4h3v1h-3zM3349 850.7h18v1h-18zM3580 853.3h12v2h-12zM1667 893.9h5v1.5h-5zM2982 870.1h3v1h-3zM3541 863.4h6v2h-6zM1377 896.6h2v1.5h-2zM756 880.1h2v2h-2zM2104 868.2h3v1h-3zM1474 883.1h3v2h-3zM3514 853.0h8v1.5h-8zM2078 872.2h4v1h-4zM2263 858.6h3v2h-3zM3216 847.0h4v1.5h-4zM3007 852.1h2v1.5h-2zM451 878.8h7v1.5h-7zM1840 890.5h2v1.5h-2zM883 893.2h2v1.5h-2zM3124 848.0h2v1.5h-2zM1162 892.6h4v1.5h-4zM3240 847.0h3v1.5h-3zM1578 892.1h4v1.5h-4zM3340 850.6h18v2h-18zM1866 888.7h3v1.5h-3zM2034 879.4h3v2h-3zM1742 896.1h2v1h-2zM3234 856.1h3v1.5h-3zM1180 885.8h3v2h-3zM2375 867.5h2v1.5h-2zM302 886.5h3v1h-3zM614 889.3h4v1.5h-4zM494 887.0h2v2h-2zM1166 882.1h3v2h-3zM1364 885.2h5v2h-5zM1583 897.4h5v2h-5zM2174 870.4h7v1.5h-7zM2348 864.9h5v1h-5zM2041 894.8h7v1h-7zM3315 852.9h6v1h-6zM1508 885.7h5v2h-5zM1693 888.1h3v2h-3zM2313 860.6h3v2h-3zM276 880.6h3v2h-3zM2384 865.1h5v1h-5zM1069 896.6h5v1h-5zM1733 895.5h5v1.5h-5zM2300 868.2h4v1h-4zM1854 892.2h7v2h-7zM2467 844.6h7v2h-7zM1380 891.9h2v1h-2zM2032 872.4h2v1.5h-2zM3204 861.7h4v1h-4zM3455 854.3h4v1.5h-4zM756 885.1h2v1.5h-2zM1748 893.1h5v1h-5zM720 884.7h2v1.5h-2zM3404 858.9h12v1.5h-12zM1246 890.9h5v1h-5zM1534 898.0h7v1.5h-7zM3583 848.1h4v2h-4zM1234 895.2h2v1.5h-2zM1976 892.5h3v1.5h-3zM3379 846.1h12v1.5h-12zM1619 886.6h7v1.5h-7zM1332 888.2h5v1h-5zM2302 851.5h4v2h-4zM2009 873.9h3v1h-3zM2384 861.8h4v2h-4zM765 880.6h2v2h-2zM492 886.6h2v2h-2zM3158 852.3h3v1.5h-3zM2222 877.6h7v1h-7zM3236 849.4h18v1.5h-18zM2814 845.2h4v1.5h-4zM1651 895.5h3v2h-3zM565 887.6h5v1.5h-5zM3537 868.1h8v1.5h-8zM1044 893.1h2v1.5h-2zM1354 883.5h4v1.5h-4zM875 880.9h2v1h-2zM1718 899.2h3v1.5h-3zM748 880.5h7v1.5h-7zM3511 853.0h4v1h-4zM3345 846.0h8v1.5h-8zM1030 886.0h3v2h-3zM3369 857.0h18v2h-18zM1506 883.3h7v2h-7zM1724 896.5h2v1.5h-2zM1039 886.5h7v1.5h-7zM1687 883.0h3v1.5h-3zM741 890.2h3v1.5h-3zM1091 886.4h4v1h-4zM980 887.6h2v1h-2zM1681 889.8h3v1h-3zM3479 860.3h12v1h-12zM3584 865.4h12v2h-12zM2263 872.9h4v2h-4zM3395 864.2h6v2h-6zM3541 860.6h8v2h-8zM2172 869.8h7v1.5h-7zM3240 853.2h12v2h-12zM945 885.4h3v2h-3zM2247 875.0h3v1.5h-3zM1850 887.8h5v1h-5zM1496 890.0h3v1h-3zM2473 838.4h7v1.5h-7zM3188 849.7h3v2h-3zM3070 870.9h2v1h-2zM3537 867.8h4v1h-4zM3355 851.7h12v1.5h-12zM3355 853.0h6v1.5h-6zM2263 854.6h7v1h-7zM2186 859.4h2v2h-2zM3493 850.5h12v1.5h-12zM3478 868.4h6v1h-6zM3253 853.1h8v1.5h-8zM2350 849.0h7v2h-7zM3539 868.4h6v1h-6zM2096 884.9h2v1.5h-2zM3404 855.5h4v2h-4zM1050 886.5h2v1.5h-2zM1217 884.5h3v2h-3zM2039 877.3h4v2h-4zM1992 875.0h2v1.5h-2zM568 876.7h3v1h-3zM2196 874.2h3v1.5h-3zM2366 862.2h5v1h-5zM3240 847.9h6v1.5h-6zM3128 852.1h5v1.5h-5zM3546 847.4h6v1h-6zM2045 872.2h2v1h-2zM1105 892.2h3v2h-3zM2142 878.5h7v1h-7zM2317 849.1h4v1.5h-4zM1728 891.0h3v1h-3zM2238 862.8h3v1.5h-3zM3627 854.8h4v1.5h-4zM3388 847.2h8v1h-8zM1105 885.4h5v2h-5zM340 891.4h2v1h-2zM2038 882.3h3v1h-3zM1385 886.5h2v2h-2zM1073 880.8h2v1.5h-2zM1038 891.9h3v1.5h-3zM2055 870.5h4v1h-4zM871 888.2h4v1.5h-4zM1459 885.4h5v1.5h-5zM3524 847.9h3v1.5h-3zM1349 897.5h4v2h-4zM2928 851.2h7v1.5h-7zM3619 862.9h3v1.5h-3zM3624 855.0h18v2h-18zM1313 886.1h4v1h-4zM3404 848.3h3v1h-3zM2250 856.7h5v2h-5zM1197 895.3h2v1h-2zM395 878.8h4v1.5h-4zM2241 869.5h3v1.5h-3zM1534 894.6h5v1.5h-5zM2301 861.8h3v2h-3zM3168 862.9h4v1h-4zM3515 855.5h18v1.5h-18zM3441 852.2h3v1.5h-3zM1707 882.8h3v1h-3zM2273 865.5h4v2h-4zM2369 857.5h2v1h-2zM2277 857.6h2v2h-2zM1318 885.5h3v1.5h-3zM3592 852.7h18v1.5h-18zM1811 884.6h2v2h-2zM2901 852.3h2v2h-2zM2982 872.7h3v1.5h-3zM2096 890.6h3v2h-3zM2324 855.7h2v2h-2zM3509 852.2h6v1.5h-6zM3172 857.6h3v1h-3zM3329 849.1h6v1h-6zM449 889.9h4v1.5h-4zM2906 861.1h3v1h-3zM1829 884.6h3v1.5h-3zM1186 894.4h3v1h-3zM3403 850.7h4v1h-4zM3000 850.0h3v1.5h-3zM3209 848.0h18v1h-18zM3597 853.4h4v2h-4zM330 891.3h3v1.5h-3zM3250 852.3h12v1h-12zM3571 859.6h3v1.5h-3zM556 879.1h4v1.5h-4zM2002 883.7h2v1h-2zM1562 888.6h2v1.5h-2zM3372 847.0h3v2h-3zM3040 857.8h4v2h-4zM3542 862.3h4v2h-4zM1937 888.1h2v1h-2zM558 890.5h5v1h-5zM2299 858.9h5v1.5h-5zM1166 896.1h4v1.5h-4zM3203 852.6h8v2h-8zM2196 874.1h2v1.5h-2zM1844 885.0h3v1h-3zM559 880.2h2v1.5h-2zM1293 886.1h2v1.5h-2zM1059 887.9h4v1.5h-4zM992 883.0h2v1.5h-2zM2048 873.4h4v1.5h-4zM1259 891.4h7v1h-7zM671 890.6h4v1.5h-4zM2207 859.2h2v1.5h-2zM3252 867.3h12v1.5h-12zM3529 855.0h8v1.5h-8zM3116 863.3h3v1.5h-3zM2967 861.4h2v2h-2zM1916 884.7h2v1.5h-2zM271 876.5h2v2h-2zM1715 883.1h4v1.5h-4zM631 882.9h2v1h-2zM2252 865.7h2v1h-2zM746 883.9h2v1.5h-2zM1206 895.0h2v1.5h-2zM1886 888.6h5v1.5h-5zM574 892.2h3v2h-3zM3460 861.9h18v1.5h-18zM3485 870.3h6v1.5h-6zM2085 884.7h7v1.5h-7zM2345 867.3h5v1h-5zM3319 858.4h18v1h-18zM402 886.3h7v2h-7zM1047 881.8h2v1.5h-2zM674 884.6h3v1.5h-3zM2139 871.3h2v1.5h-2zM3323 860.7h18v1h-18zM3121 853.8h4v1.5h-4zM3531 865.6h12v1.5h-12zM3257 860.5h18v1.5h-18zM1141 883.9h2v1.5h-2zM1880 892.8h7v1.5h-7zM468 876.4h2v1.5h-2zM3586 863.8h4v2h-4zM2303 868.1h4v1.5h-4zM1122 890.8h2v1.5h-2zM3586 861.2h6v2h-6zM2424 863.5h5v1.5h-5zM3330 860.3h8v1h-8zM3371 847.0h4v2h-4zM2134 888.2h3v1.5h-3zM1221 891.2h7v1.5h-7zM2206 868.1h7v1h-7zM285 883.5h3v1.5h-3zM982 888.6h2v2h-2zM741 878.0h7v1h-7zM2056 873.1h2v1h-2zM2156 886.0h3v1.5h-3zM3074 859.3h2v2h-2zM486 877.8h2v2h-2zM515 889.9h3v1.5h-3zM533 876.9h2v1.5h-2zM1373 885.0h3v1.5h-3zM2109 887.6h5v1.5h-5zM418 882.2h3v1.5h-3zM3304 855.3h12v1.5h-12zM3265 847.6h4v1h-4zM1288 897.0h2v1.5h-2zM2025 895.0h7v1h-7zM1887 895.6h3v1.5h-3zM1282 896.6h2v1.5h-2zM838 878.0h7v1.5h-7zM1085 882.9h4v1.5h-4zM1782 896.7h3v1.5h-3zM1102 883.0h4v1h-4zM1633 882.5h7v1.5h-7zM1920 897.8h2v1.5h-2zM1178 887.1h3v1.5h-3zM1613 886.2h2v1h-2zM3453 865.1h18v1h-18zM2060 873.3h3v2h-3zM1758 892.9h2v1.5h-2zM1580 896.5h2v2h-2zM3306 860.5h18v1h-18zM1444 896.2h7v1h-7zM1733 898.3h2v1.5h-2zM828 880.7h3v2h-3zM3034 850.0h3v2h-3zM3409 854.2h3v1h-3zM2918 854.6h5v1.5h-5zM1842 889.8h4v1h-4zM3303 864.3h8v1.5h-8zM3253 853.9h8v1h-8zM767 877.7h3v1h-3zM1784 883.6h4v1.5h-4zM3565 869.1h18v2h-18zM2938 868.2h4v1.5h-4zM954 882.5h7v1.5h-7zM3622 856.1h4v1.5h-4zM1027 881.3h5v1.5h-5zM1075 884.3h2v1.5h-2zM440 876.1h5v1.5h-5zM3259 850.6h12v2h-12zM2261 857.9h2v1.5h-2zM2025 877.7h4v1.5h-4zM1774 882.8h5v1.5h-5zM1505 882.6h2v1.5h-2zM3108 850.6h7v1.5h-7zM3407 846.9h18v1.5h-18zM1022 879.4h4v1.5h-4zM3489 869.8h4v1.5h-4zM3522 853.9h8v1.5h-8zM2101 875.4h5v1.5h-5zM1022 883.2h3v2h-3zM2363 851.0h3v1.5h-3zM3309 851.8h6v1.5h-6zM289 876.5h4v1.5h-4zM2335 851.1h3v1.5h-3zM2115 870.0h5v1h-5zM786 878.1h2v1h-2zM3349 847.1h4v1.5h-4zM3593 859.9h18v2h-18zM1351 893.0h2v1.5h-2zM2405 841.9h7v1h-7zM891 887.3h5v1.5h-5zM3342 851.7h12v1.5h-12zM973 882.3h3v1.5h-3zM866 886.2h2v1h-2zM2026 887.9h3v1.5h-3zM3436 866.8h8v1.5h-8zM828 878.4h2v1h-2zM3406 868.5h3v1.5h-3zM3418 849.3h3v1.5h-3zM869 894.7h7v2h-7zM500 885.4h2v2h-2zM2001 874.8h3v1.5h-3zM3118 853.0h2v2h-2zM2127 869.9h5v1.5h-5zM3605 847.3h4v1h-4zM830 884.0h2v1.5h-2zM354 877.3h2v1h-2zM3520 848.7h12v1.5h-12zM1971 889.9h2v1h-2zM1078 885.3h2v2h-2zM758 890.9h7v1.5h-7zM1100 890.6h3v1h-3zM1751 884.0h2v2h-2zM1552 886.7h3v1h-3zM3265 853.8h12v1.5h-12zM2074 888.3h2v1.5h-2zM2471 856.2h2v1.5h-2zM3224 847.9h12v1.5h-12zM2656 847.6h5v2h-5zM2949 856.8h2v1h-2zM3256 863.2h6v2h-6zM1826 890.5h5v2h-5zM2197 862.5h5v1h-5zM2332 855.5h2v1.5h-2zM2958 853.9h4v2h-4zM3291 866.4h6v2h-6zM3504 862.5h18v1h-18zM1491 882.2h7v1h-7zM1699 896.2h7v1.5h-7zM2199 861.4h2v2h-2zM1364 883.3h3v2h-3zM3503 847.5h18v1.5h-18zM1122 883.3h3v2h-3zM2949 853.1h5v1.5h-5zM965 895.2h7v1.5h-7zM3264 857.5h8v2h-8zM1030 892.7h4v1.5h-4zM3265 860.6h3v1.5h-3zM1996 878.7h7v1.5h-7zM2209 859.4h4v2h-4zM1774 884.0h3v1h-3zM2094 872.7h4v1.5h-4zM3430 851.3h12v1.5h-12zM650 892.9h3v1h-3zM1770 887.5h4v1.5h-4zM1616 888.8h3v2h-3zM645 881.9h3v1h-3zM2274 857.2h3v1.5h-3zM1716 897.9h3v2h-3zM3325 859.0h4v1.5h-4zM3055 871.1h3v1.5h-3zM3473 847.6h8v1.5h-8zM2043 884.2h3v1h-3zM368 875.9h2v1.5h-2zM2936 868.1h7v1.5h-7zM1942 884.1h2v2h-2zM2089 870.5h4v1.5h-4zM535 885.7h2v1.5h-2zM543 877.2h2v1.5h-2zM3175 868.2h5v1h-5zM392 876.5h3v2h-3zM2922 864.9h2v2h-2zM2009 890.5h7v2h-7zM3285 858.5h18v1.5h-18zM2671 858.4h2v1h-2zM3062 867.4h3v1.5h-3zM3611 846.5h8v1.5h-8zM3325 855.6h3v2h-3zM3250 848.6h8v1h-8zM3365 864.2h12v1.5h-12zM1695 896.1h3v2h-3zM3487 848.0h8v2h-8zM3320 868.4h4v1h-4zM1614 886.1h4v1h-4zM3617 846.9h6v1.5h-6zM1905 888.8h7v1.5h-7zM1729 893.9h2v1h-2zM1983 877.1h3v1.5h-3zM3581 853.5h12v1.5h-12zM793 887.0h5v1h-5zM351 888.6h5v1h-5zM2950 861.4h3v1h-3zM1318 882.4h2v1.5h-2zM3630 855.6h3v2h-3zM1368 883.1h5v2h-5zM3556 861.2h18v1.5h-18zM2251 873.1h5v1h-5zM574 887.3h2v1.5h-2zM3528 848.7h3v2h-3zM3017 849.9h4v1h-4zM3560 851.2h3v1.5h-3zM2393 864.0h2v1.5h-2zM3309 854.8h6v2h-6zM3509 864.2h18v1.5h-18zM1666 893.9h5v1h-5zM3315 862.3h12v1.5h-12zM3588 862.8h6v1.5h-6zM3191 867.6h2v1.5h-2zM394 892.8h2v1.5h-2zM475 883.8h3v1h-3zM3400 847.6h8v1h-8zM1691 886.8h2v1.5h-2zM3535 852.9h4v1.5h-4zM1440 886.6h7v2h-7zM3211 861.5h4v2h-4zM1867 896.2h2v1.5h-2zM3181 864.9h3v2h-3zM3241 861.4h3v1.5h-3zM501 878.1h7v1.5h-7zM3424 849.0h6v1.5h-6zM2054 889.0h7v1h-7zM1998 883.7h3v2h-3zM3037 850.3h3v1.5h-3zM3614 853.2h8v1.5h-8zM1912 887.2h4v1.5h-4zM1375 890.6h5v1.5h-5zM3416 851.1h12v1.5h-12zM2049 892.6h3v2h-3zM1164 887.9h5v1.5h-5zM3370 846.5h6v1.5h-6zM3624 861.0h8v1.5h-8zM3199 847.4h5v2h-5zM1617 886.4h3v1.5h-3zM387 878.2h2v1.5h-2zM812 884.9h5v2h-5zM1124 888.4h7v2h-7zM3466 864.6h8v1.5h-8zM2902 857.5h2v1h-2zM1915 893.5h7v1h-7zM3620 850.9h12v1h-12zM2028 880.3h2v2h-2zM2276 864.9h2v1h-2zM1946 895.8h2v1.5h-2zM3478 858.2h18v1.5h-18zM703 893.7h3v2h-3zM748 888.7h5v1h-5zM2641 849.6h3v2h-3zM3576 860.2h4v1.5h-4zM2982 852.2h3v1.5h-3zM3261 849.8h4v1.5h-4zM2231 856.0h3v2h-3zM3503 867.3h12v2h-12zM3202 855.7h18v1h-18zM3382 857.6h6v1.5h-6zM2344 853.7h7v1h-7zM1781 884.5h7v1h-7zM1283 889.5h5v2h-5zM478 886.9h3v2h-3zM2203 869.5h2v2h-2zM1159 892.7h2v1.5h-2zM3361 851.9h4v1.5h-4zM1628 895.9h3v2h-3zM3360 846.3h12v2h-12zM2041 889.4h5v1h-5zM1997 885.3h2v1h-2zM2925 849.9h3v1.5h-3zM3087 858.3h4v1.5h-4zM2277 854.7h5v1h-5zM3490 857.4h18v1h-18zM2330 868.8h7v2h-7zM352 884.0h7v1h-7zM2337 847.9h3v1h-3zM422 889.2h2v1.5h-2zM3393 864.4h4v1h-4zM2982 859.0h3v1.5h-3zM324 876.0h7v1h-7zM3296 854.4h4v1.5h-4zM489 877.6h3v1.5h-3zM1279 889.7h2v1h-2zM3358 862.3h8v2h-8zM1180 896.9h4v2h-4zM2808 857.8h7v1h-7zM1893 898.8h7v1h-7zM1327 886.0h4v1h-4zM2184 859.9h3v1.5h-3zM1374 890.8h4v2h-4zM428 880.9h2v2h-2zM1497 893.6h4v1h-4zM3388 863.8h4v1.5h-4zM1051 881.4h7v2h-7zM2867 861.0h5v1.5h-5zM3565 854.6h4v2h-4zM3348 864.4h3v2h-3zM1058 880.2h2v1.5h-2zM1341 884.3h7v2h-7zM3130 862.7h4v1.5h-4zM2944 870.8h4v2h-4zM1304 895.1h4v1h-4zM2061 871.6h5v1.5h-5zM456 879.0h3v1h-3zM3575 852.8h12v1h-12zM349 888.2h5v2h-5zM378 882.5h2v1.5h-2zM322 887.8h3v2h-3zM1269 884.9h7v1h-7zM2273 872.8h4v1.5h-4zM900 890.3h4v2h-4zM2043 885.3h5v2h-5zM425 881.3h4v1.5h-4zM1604 882.8h2v1.5h-2zM3202 850.7h8v1h-8zM1416 894.1h3v1.5h-3zM1249 886.8h2v1.5h-2zM1364 883.2h4v1.5h-4zM1371 895.6h2v1.5h-2zM1657 882.7h3v2h-3zM1900 884.9h3v1h-3zM3398 865.0h12v2h-12zM2068 890.8h4v1.5h-4zM3568 849.9h6v2h-6zM1274 882.9h2v1h-2zM1424 894.7h2v1.5h-2zM3475 858.8h18v1.5h-18zM3028 866.2h4v1.5h-4zM1760 897.6h5v1h-5zM2383 845.6h4v1.5h-4zM3133 866.8h7v1.5h-7zM1607 883.7h4v2h-4zM706 878.8h3v1h-3zM3282 870.3h8v1.5h-8zM3209 862.1h18v1h-18zM1867 883.9h7v1h-7zM1228 890.0h3v1.5h-3zM2341 853.1h5v2h-5zM357 891.2h3v1.5h-3zM2290 873.8h7v2h-7zM1017 879.4h7v1.5h-7zM2167 861.5h4v2h-4zM775 885.6h2v1.5h-2zM2866 845.2h2v2h-2zM2387 860.3h3v1.5h-3zM2987 858.4h3v2h-3zM3394 850.5h8v1h-8zM473 878.1h3v1.5h-3zM797 877.9h2v1.5h-2zM1346 883.5h3v1.5h-3zM554 885.8h3v2h-3zM1917 899.8h7v1.5h-7zM3329 847.6h4v1h-4zM3481 847.3h18v2h-18zM3491 853.1h12v1.5h-12zM1726 895.1h4v2h-4zM3043 861.9h2v1.5h-2zM3528 846.9h8v2h-8zM2138 885.5h2v2h-2zM2001 889.5h2v1h-2zM412 878.8h3v1.5h-3zM479 878.1h3v1h-3zM1368 888.8h2v2h-2zM1119 893.5h4v1.5h-4zM2263 857.4h2v1h-2zM2061 879.6h3v1.5h-3zM1631 892.8h3v1.5h-3zM2129 865.7h3v1h-3zM391 882.7h4v1.5h-4zM1231 885.2h3v1h-3zM2510 857.6h3v2h-3zM978 881.9h3v2h-3zM966 880.4h3v2h-3zM1371 885.7h5v1.5h-5zM1138 880.2h3v2h-3zM3519 850.0h8v1.5h-8zM1410 885.1h2v2h-2zM790 894.0h4v2h-4zM815 877.8h2v1h-2zM2660 841.8h3v1.5h-3zM1062 889.6h5v1h-5zM1397 882.4h7v1.5h-7zM296 877.4h5v1.5h-5zM1370 887.0h2v1.5h-2zM675 879.6h3v2h-3zM3438 860.8h18v1h-18zM3498 847.6h8v1.5h-8zM3248 850.2h3v1.5h-3zM405 877.4h4v2h-4zM2202 858.3h5v1.5h-5zM949 892.3h7v1h-7zM3478 867.0h8v2h-8zM3601 851.8h6v1.5h-6zM3498 850.5h12v2h-12zM3259 846.7h3v1h-3zM3339 845.9h4v1.5h-4zM3572 847.0h12v2h-12zM3443 848.6h8v2h-8zM308 883.0h3v1.5h-3zM1592 882.6h2v1h-2zM2268 858.3h5v1.5h-5zM1818 894.4h5v1.5h-5zM3219 859.8h18v1h-18zM539 882.2h7v1.5h-7zM2253 872.0h3v2h-3zM3234 849.3h12v2h-12zM3613 848.8h18v1.5h-18zM3396 847.2h3v1h-3zM3627 868.8h18v2h-18zM792 893.2h7v1.5h-7zM2333 861.9h2v1h-2zM822 888.4h2v1.5h-2zM2934 850.5h5v1h-5zM3259 849.7h18v1h-18zM1608 893.7h5v1.5h-5zM2279 852.5h2v1h-2zM1425 882.5h3v2h-3zM1451 888.2h3v1.5h-3zM1263 881.5h7v2h-7zM3189 847.8h5v2h-5zM1511 888.0h4v1.5h-4zM1346 881.9h2v1.5h-2zM385 876.6h4v1.5h-4zM1902 883.9h5v1.5h-5zM1430 886.9h3v2h-3zM788 891.7h5v1.5h-5zM963 878.9h3v1.5h-3zM2087 875.9h4v2h-4zM3122 867.9h3v2h-3zM1109 894.4h3v1h-3zM1227 888.8h3v1.5h-3zM1911 890.6h2v2h-2zM3523 849.1h8v1.5h-8zM3510 848.1h3v1h-3zM1683 882.8h7v2h-7zM1620 897.4h2v1.5h-2zM2060 892.0h3v1.5h-3zM1346 895.9h7v2h-7zM438 878.7h2v2h-2zM3562 851.0h18v2h-18zM2322 863.4h5v2h-5zM579 891.6h3v1.5h-3zM292 892.3h2v1h-2zM3562 850.7h3v2h-3zM3040 866.3h3v1.5h-3zM1374 891.1h2v1.5h-2zM1875 890.6h2v1.5h-2zM3373 862.2h4v2h-4zM508 877.3h7v2h-7zM3421 857.2h3v2h-3zM3329 852.1h6v1.5h-6zM3300 849.6h8v1h-8zM1485 886.2h3v2h-3zM3352 849.4h6v1.5h-6zM1797 883.3h2v1.5h-2zM1806 894.7h3v2h-3zM1206 883.6h4v1h-4zM2842 848.7h2v1h-2zM1421 891.9h2v2h-2zM1491 890.7h4v1h-4zM2357 854.4h3v1h-3zM2106 885.2h5v2h-5zM3245 864.5h3v1.5h-3zM3393 869.5h12v1.5h-12zM1710 889.2h7v1.5h-7zM2697 848.6h7v1h-7zM2193 860.5h5v1h-5zM1442 883.2h5v1h-5zM408 878.8h3v1h-3zM590 877.5h3v1.5h-3zM3303 864.9h4v2h-4zM2042 894.7h3v2h-3zM1974 890.1h2v1h-2zM573 878.8h3v1.5h-3zM3621 852.6h6v1.5h-6zM1245 884.4h7v1.5h-7zM2021 891.3h2v2h-2zM1087 886.5h2v2h-2zM3084 862.9h3v1h-3zM2619 842.5h2v1.5h-2zM926 880.9h2v1.5h-2zM2779 855.2h4v1.5h-4zM3434 869.2h3v2h-3zM669 881.5h2v2h-2zM3210 848.3h4v2h-4zM2034 885.3h2v1h-2zM1724 895.7h2v1.5h-2zM3299 856.1h3v1.5h-3zM1404 898.2h7v1.5h-7zM2179 872.5h2v1.5h-2zM2064 869.9h2v2h-2zM1060 881.2h2v1h-2zM2112 881.9h4v1h-4zM3501 870.8h6v1.5h-6zM2991 866.0h3v1.5h-3zM1209 888.0h3v1.5h-3zM2343 851.8h3v2h-3zM2827 866.5h2v1h-2zM3391 861.6h3v1h-3zM288 881.5h5v1h-5zM2988 854.1h4v1h-4zM1093 896.7h3v1.5h-3zM986 892.5h5v2h-5zM2201 877.2h2v1.5h-2zM2023 889.1h3v1.5h-3zM1929 883.0h4v2h-4zM3125 870.8h3v1h-3zM2907 848.7h3v1.5h-3zM3148 854.0h2v1.5h-2zM3382 864.2h3v2h-3zM1169 888.8h3v1.5h-3zM941 881.8h2v1h-2zM2263 855.3h3v1.5h-3zM3593 848.9h6v1.5h-6zM3258 857.4h18v2h-18zM1801 882.7h5v2h-5zM2552 854.3h4v1.5h-4zM2909 860.5h7v2h-7zM3232 855.3h6v2h-6zM3043 854.0h2v1.5h-2zM2290 858.1h2v1.5h-2zM2995 859.2h3v1.5h-3zM898 890.3h2v2h-2zM1658 886.9h4v1.5h-4zM2009 875.8h3v1.5h-3zM2414 855.5h7v2h-7zM1163 887.6h2v2h-2zM382 879.8h3v1h-3zM2194 861.1h2v2h-2zM2925 848.9h7v1.5h-7zM1670 882.7h2v1.5h-2zM924 885.2h3v1.5h-3zM1946 892.0h3v2h-3zM1728 883.8h3v2h-3zM2159 866.3h2v1.5h-2zM3348 854.5h18v1.5h-18zM3073 870.4h4v1.5h-4zM1222 893.2h5v1h-5zM1040 887.6h3v1h-3zM651 878.6h3v1.5h-3zM3394 847.9h4v2h-4zM1864 883.6h2v1h-2zM3630 867.0h4v1.5h-4zM1494 895.5h5v1.5h-5zM1798 891.5h4v2h-4zM1179 896.5h3v1h-3zM3249 853.1h8v1.5h-8zM843 883.8h2v1.5h-2zM1730 884.1h3v1.5h-3zM3282 849.8h12v1.5h-12zM275 885.5h7v1.5h-7zM3517 855.8h3v2h-3zM2106 874.7h3v1.5h-3zM356 883.6h5v2h-5zM1534 888.8h3v1h-3zM3274 847.2h12v1.5h-12zM3435 846.9h4v1h-4zM586 893.5h3v2h-3zM1627 894.5h7v1h-7zM3271 849.1h12v2h-12zM1596 885.5h5v1.5h-5zM3463 863.0h3v1.5h-3zM3592 868.7h4v2h-4zM1048 893.2h3v1.5h-3zM3361 850.2h3v1.5h-3zM2182 870.7h2v2h-2zM3239 853.4h3v1.5h-3zM3419 848.5h18v2h-18zM1414 882.9h2v2h-2zM3217 852.2h3v2h-3zM1586 891.0h5v1.5h-5zM2066 875.1h3v1.5h-3zM3123 856.3h7v2h-7zM3540 865.7h4v1h-4zM1893 883.1h4v1.5h-4zM2235 871.5h5v1h-5zM920 884.9h5v1.5h-5zM1148 883.9h7v2h-7zM3483 847.1h12v1.5h-12zM2139 870.8h2v1.5h-2zM776 886.2h3v1.5h-3zM2063 887.6h5v2h-5zM1507 883.0h7v1.5h-7zM3010 867.2h3v2h-3zM743 880.2h7v2h-7zM2076 880.0h2v1.5h-2zM2237 876.3h2v2h-2zM3263 859.7h3v1.5h-3zM659 886.3h5v2h-5zM1662 892.5h2v2h-2zM3346 863.5h18v1h-18zM3396 865.3h6v1.5h-6zM1928 885.8h4v1.5h-4zM3024 872.4h4v1.5h-4zM3234 851.9h12v2h-12zM3507 859.4h3v2h-3zM3273 854.8h6v1.5h-6zM2695 863.4h4v1h-4zM3465 851.5h6v1h-6zM794 879.5h4v2h-4zM320 884.1h3v2h-3zM547 879.0h7v1h-7zM632 891.9h2v1h-2zM804 877.8h7v2h-7zM3283 851.1h18v1.5h-18zM2460 845.5h7v1.5h-7zM3552 852.7h6v1.5h-6zM2379 853.2h2v1.5h-2zM2933 854.7h4v1.5h-4zM3563 860.3h8v1h-8zM873 886.0h3v1.5h-3zM3163 855.5h3v1.5h-3zM878 894.0h2v1h-2zM3569 849.2h6v1.5h-6zM3294 851.7h6v1.5h-6zM2911 848.2h5v2h-5zM1717 893.6h7v2h-7zM380 876.5h5v1.5h-5zM1387 883.6h3v1.5h-3zM1547 895.2h3v1.5h-3zM2113 882.4h2v1.5h-2zM987 893.8h7v1.5h-7zM2214 856.9h4v1h-4zM3354 858.0h18v1.5h-18zM3253 861.2h4v2h-4zM795 893.8h4v1h-4zM1714 885.5h5v1.5h-5zM2152 868.1h2v1.5h-2zM2356 855.1h2v1h-2zM2191 882.1h7v1.5h-7zM424 880.1h2v2h-2zM2273 869.2h2v2h-2zM2365 845.4h3v2h-3zM1711 883.1h7v2h-7zM1586 887.6h3v2h-3zM1816 893.6h2v1.5h-2zM3372 861.4h8v2h-8zM2013 872.6h2v2h-2zM3327 846.4h6v1.5h-6zM1194 890.2h3v1.5h-3zM1018 891.7h2v1h-2zM451 877.7h7v1.5h-7zM2132 872.5h2v1h-2zM3490 866.9h18v2h-18zM1146 880.8h3v1.5h-3zM1328 886.3h3v2h-3zM1641 891.5h2v2h-2zM816 878.7h7v2h-7zM1004 890.7h4v1.5h-4zM849 894.1h7v1.5h-7zM3394 847.6h8v1h-8zM3520 868.5h18v1.5h-18zM1091 881.9h4v1.5h-4zM668 882.9h4v2h-4zM357 877.9h3v1h-3zM1065 891.0h4v1h-4zM2125 880.5h5v1.5h-5zM2212 870.1h3v1.5h-3zM3405 859.9h18v1.5h-18zM3066 850.4h2v1.5h-2zM1136 881.8h2v1.5h-2zM2255 862.4h3v2h-3zM3479 853.8h18v1h-18zM2372 862.5h3v1h-3zM1985 879.8h4v1h-4zM3352 846.1h3v2h-3zM1404 895.2h3v1.5h-3zM439 880.2h5v1.5h-5zM1851 883.1h2v2h-2zM3564 847.9h4v1.5h-4zM822 893.4h5v1h-5zM1301 892.6h5v1.5h-5zM3463 863.1h18v2h-18zM2172 868.4h3v2h-3zM2244 857.8h4v1h-4zM285 888.0h5v2h-5zM2819 851.8h5v1h-5zM2125 870.7h3v2h-3zM777 892.5h7v1.5h-7zM2056 887.6h3v1.5h-3zM2102 877.0h2v1.5h-2zM755 888.7h2v1.5h-2zM1977 879.8h3v1h-3zM3502 849.3h12v2h-12zM968 886.7h7v2h-7zM2120 873.7h4v1h-4zM2187 870.6h2v2h-2zM2077 890.2h7v1.5h-7zM1824 889.4h5v1h-5zM1572 882.4h3v1.5h-3zM3035 871.3h7v1h-7zM1481 884.6h5v2h-5zM717 890.4h7v1h-7zM2235 859.7h5v2h-5zM2197 866.5h3v2h-3zM921 878.8h2v1.5h-2zM1899 887.8h3v1.5h-3zM3568 846.7h18v1.5h-18zM2943 850.6h7v1.5h-7zM3008 849.8h5v2h-5zM2047 877.0h4v2h-4zM1598 886.9h7v1.5h-7zM3336 865.6h3v1.5h-3zM1114 889.0h7v1h-7zM2119 877.8h7v1.5h-7zM3585 848.5h6v2h-6zM3553 869.4h6v2h-6zM3301 852.7h6v1.5h-6zM959 886.0h3v1.5h-3zM3478 867.6h18v1.5h-18zM2003 886.1h2v1.5h-2zM3251 848.6h6v1.5h-6zM3340 865.2h3v1.5h-3zM3313 846.2h4v1.5h-4zM621 876.8h2v1.5h-2zM1734 889.9h2v2h-2zM752 878.4h7v1.5h-7zM3191 856.5h7v1.5h-7zM3571 852.5h12v1h-12zM296 876.4h5v1.5h-5zM1492 883.2h2v1.5h-2zM1342 895.4h2v1.5h-2zM2313 858.9h3v1.5h-3zM2846 846.1h7v1.5h-7zM1167 892.3h5v1.5h-5zM3244 857.7h4v1h-4zM3317 863.5h8v1.5h-8zM1433 893.7h2v1.5h-2zM825 889.6h5v1.5h-5zM397 891.9h3v2h-3zM381 879.8h3v1.5h-3zM1278 886.4h7v2h-7zM1942 888.4h2v1.5h-2zM2193 868.2h7v1.5h-7zM1704 893.5h2v1h-2zM3317 846.1h6v1h-6zM2349 856.8h3v1.5h-3zM3597 856.0h12v1h-12zM2273 873.4h5v2h-5zM301 876.2h3v2h-3zM3032 851.8h3v1.5h-3zM285 877.8h3v1h-3zM2034 873.4h7v1h-7zM3170 850.0h2v1.5h-2zM3279 852.0h12v2h-12zM3220 848.0h18v2h-18zM2009 889.0h2v1h-2zM3429 848.1h8v1h-8zM3121 848.3h3v1.5h-3zM3435 860.6h12v1.5h-12zM1167 881.0h4v1.5h-4zM3168 867.3h3v2h-3zM3374 868.6h6v2h-6zM2246 858.4h4v1.5h-4zM2060 892.6h7v1.5h-7zM3230 851.7h4v1h-4zM3421 868.5h18v2h-18zM2141 887.8h7v2h-7zM3543 860.4h18v2h-18zM1728 895.4h7v2h-7zM3517 850.9h4v1h-4zM1328 883.3h2v2h-2zM3588 865.7h3v1.5h-3zM3070 862.1h3v1.5h-3zM2228 857.6h7v1h-7zM1349 885.0h4v1.5h-4zM2040 871.9h7v2h-7zM3447 851.5h12v1.5h-12zM632 882.0h5v1.5h-5zM3087 857.4h2v1.5h-2zM1484 897.6h7v1h-7zM3090 857.5h3v1.5h-3zM1250 881.0h7v1.5h-7zM3246 850.5h6v1.5h-6zM467 879.8h4v2h-4zM2966 871.3h2v2h-2zM982 882.9h3v2h-3zM2934 864.1h4v1h-4zM3243 855.3h12v1.5h-12zM2292 851.2h3v1h-3zM3627 851.1h12v1.5h-12zM2021 875.3h5v1.5h-5zM3384 850.7h8v2h-8zM1755 884.0h3v2h-3zM3344 859.2h4v1.5h-4zM2007 896.2h2v1h-2zM398 891.5h4v1h-4zM2035 888.4h2v1.5h-2zM2993 854.5h7v2h-7zM1809 889.7h3v1.5h-3zM388 877.7h4v1.5h-4zM1575 890.4h4v1.5h-4zM1761 887.3h4v1.5h-4zM3578 861.1h3v1.5h-3zM1323 893.3h2v2h-2zM2161 876.9h4v2h-4zM1895 889.7h4v1h-4zM589 882.6h5v1.5h-5zM3361 851.4h3v2h-3zM432 880.4h4v1h-4zM2103 890.0h5v2h-5zM3255 858.9h3v2h-3zM1038 879.4h7v1.5h-7zM284 877.9h4v2h-4zM906 893.1h3v1h-3zM1137 880.2h3v2h-3zM3399 851.1h3v1h-3z" fill="#fff"/>
<path d="M3033 848.8h4v1.5h-4zM910 878.5h6v1.5h-6zM2090 864.5h3v1.5h-3zM393 875.9h6v1.5h-6zM3044 847.1h4v1.5h-4zM336 875.3h2v1.5h-2zM970 878.9h2v1.5h-2zM2198 858.1h4v1.5h-4zM370 873.6h4v1.5h-4zM3321 845.9h2v1.5h-2zM3442 845.4h2v1.5h-2zM2095 867.8h3v1.5h-3zM2113 866.2h6v1.5h-6zM1817 882.3h8v1.5h-8zM2236 848.2h2v1.5h-2zM715 874.2h3v1.5h-3zM924 875.7h8v1.5h-8zM1333 880.7h3v1.5h-3zM912 876.1h3v1.5h-3zM2123 865.6h4v1.5h-4zM1017 876.1h8v1.5h-8zM2105 867.0h6v1.5h-6zM3344 845.5h3v1.5h-3zM1815 879.5h8v1.5h-8zM881 878.3h4v1.5h-4zM1635 880.8h6v1.5h-6zM3194 844.7h4v1.5h-4zM1527 881.8h3v1.5h-3zM3024 848.7h3v1.5h-3zM1429 881.5h8v1.5h-8zM3408 844.8h3v1.5h-3zM2190 858.8h8v1.5h-8zM1948 879.2h3v1.5h-3zM3499 844.5h4v1.5h-4zM3462 846.0h2v1.5h-2zM1046 878.9h4v1.5h-4zM3526 846.7h6v1.5h-6zM1325 881.0h4v1.5h-4zM3199 846.7h4v1.5h-4zM3258 846.3h3v1.5h-3zM2321 846.6h2v1.5h-2zM324 875.7h4v1.5h-4zM3277 844.5h8v1.5h-8zM714 876.4h6v1.5h-6zM3387 843.2h8v1.5h-8zM1702 881.7h6v1.5h-6zM1050 879.1h8v1.5h-8zM2967 848.4h8v1.5h-8zM3349 845.6h4v1.5h-4zM2010 872.7h6v1.5h-6zM3606 846.3h8v1.5h-8zM1787 882.1h6v1.5h-6zM2308 843.5h3v1.5h-3zM311 875.2h3v1.5h-3zM3571 845.8h4v1.5h-4zM3620 844.7h8v1.5h-8zM1278 878.2h4v1.5h-4zM1795 880.0h6v1.5h-6zM3535 846.0h2v1.5h-2zM2935 846.8h6v1.5h-6zM2103 867.6h2v1.5h-2zM2302 850.1h3v1.5h-3zM3423 845.6h4v1.5h-4zM2094 865.2h3v1.5h-3zM1157 878.1h3v1.5h-3zM823 876.0h8v1.5h-8zM3397 846.1h8v1.5h-8zM2523 836.4h6v1.5h-6zM1946 883.0h4v1.5h-4zM2154 855.9h3v1.5h-3zM405 875.6h4v1.5h-4zM3629 846.2h4v1.5h-4zM3473 846.4h6v1.5h-6zM3322 844.4h3v1.5h-3zM527 876.4h6v1.5h-6zM1119 878.3h2v1.5h-2zM2008 868.8h8v1.5h-8zM799 874.6h8v1.5h-8zM1988 872.3h4v1.5h-4zM1481 881.9h6v1.5h-6zM2913 845.2h4v1.5h-4zM1345 880.6h6v1.5h-6zM2156 862.3h4v1.5h-4zM764 877.4h8v1.5h-8zM1405 880.2h8v1.5h-8zM463 875.9h2v1.5h-2zM3493 844.7h3v1.5h-3zM3085 847.9h8v1.5h-8zM1144 879.4h6v1.5h-6zM3509 844.0h6v1.5h-6zM812 874.2h6v1.5h-6zM1658 882.4h8v1.5h-8zM1300 879.7h8v1.5h-8zM2983 847.0h3v1.5h-3zM394 874.7h6v1.5h-6zM515 873.8h8v1.5h-8zM3326 843.0h4v1.5h-4zM1226 877.3h2v1.5h-2zM2259 850.6h8v1.5h-8zM340 875.5h8v1.5h-8zM3310 844.4h8v1.5h-8zM973 878.9h3v1.5h-3zM3525 846.9h4v1.5h-4zM380 872.1h4v1.5h-4zM2363 840.2h4v1.5h-4zM1271 880.8h3v1.5h-3zM2083 864.2h8v1.5h-8zM2335 845.0h8v1.5h-8zM633 874.0h3v1.5h-3zM416 876.0h8v1.5h-8zM2276 844.9h4v1.5h-4zM2984 848.7h4v1.5h-4zM3432 845.4h6v1.5h-6zM2033 870.7h3v1.5h-3zM3501 846.3h4v1.5h-4zM803 874.3h2v1.5h-2zM3402 846.1h2v1.5h-2zM1155 880.3h3v1.5h-3zM2003 867.2h6v1.5h-6zM3410 844.9h8v1.5h-8zM1101 878.5h3v1.5h-3zM1467 878.3h3v1.5h-3zM2201 856.5h4v1.5h-4zM3604 845.7h4v1.5h-4zM1216 877.4h3v1.5h-3zM804 876.0h3v1.5h-3zM1586 882.3h6v1.5h-6zM2469 832.9h4v1.5h-4zM1193 879.7h2v1.5h-2zM3403 843.6h4v1.5h-4zM2914 846.6h8v1.5h-8zM577 874.1h6v1.5h-6zM1138 878.9h8v1.5h-8zM3302 843.2h3v1.5h-3zM428 873.8h3v1.5h-3zM3441 846.4h4v1.5h-4zM1568 881.4h2v1.5h-2zM2113 865.3h8v1.5h-8zM1892 878.9h3v1.5h-3zM3260 845.3h4v1.5h-4zM3318 845.4h3v1.5h-3zM2092 867.7h6v1.5h-6zM3362 845.6h4v1.5h-4zM3545 846.8h6v1.5h-6zM615 875.5h8v1.5h-8zM2239 851.0h4v1.5h-4zM1659 881.4h4v1.5h-4zM1782 882.7h6v1.5h-6zM2148 855.7h8v1.5h-8zM3455 845.2h6v1.5h-6zM2180 856.8h8v1.5h-8zM3381 845.7h8v1.5h-8zM3223 845.0h4v1.5h-4zM3239 844.2h8v1.5h-8zM3370 845.7h8v1.5h-8zM1063 876.3h2v1.5h-2zM3543 845.1h2v1.5h-2zM1616 882.0h8v1.5h-8zM3453 846.6h6v1.5h-6zM1579 880.1h8v1.5h-8zM419 873.9h2v1.5h-2zM3480 845.4h2v1.5h-2zM2373 841.8h4v1.5h-4zM886 876.4h4v1.5h-4zM3506 846.8h2v1.5h-2zM701 876.2h8v1.5h-8zM3529 846.6h2v1.5h-2zM3040 847.9h8v1.5h-8zM580 875.2h3v1.5h-3zM3580 846.1h4v1.5h-4zM3298 843.5h4v1.5h-4zM2078 863.0h3v1.5h-3zM3252 844.4h4v1.5h-4zM1370 879.6h4v1.5h-4zM2134 862.0h8v1.5h-8zM547 872.6h4v1.5h-4zM1729 881.2h8v1.5h-8zM2372 840.3h6v1.5h-6zM2366 842.7h6v1.5h-6zM3031 848.8h4v1.5h-4zM1449 881.4h8v1.5h-8zM284 872.7h6v1.5h-6zM2183 858.4h6v1.5h-6zM1078 878.4h4v1.5h-4zM2109 860.3h3v1.5h-3zM969 878.6h3v1.5h-3zM878 875.7h2v1.5h-2zM3089 847.9h6v1.5h-6zM2146 859.9h6v1.5h-6zM3597 843.9h4v1.5h-4zM3236 846.7h3v1.5h-3zM3577 844.4h6v1.5h-6zM3217 845.3h3v1.5h-3zM2190 856.6h2v1.5h-2zM2050 866.9h8v1.5h-8zM1581 881.8h2v1.5h-2zM2161 861.3h6v1.5h-6zM3191 845.7h4v1.5h-4zM1363 878.9h4v1.5h-4zM533 873.6h2v1.5h-2zM2186 858.0h6v1.5h-6zM3558 846.4h8v1.5h-8zM3420 845.8h2v1.5h-2zM659 875.6h8v1.5h-8zM2144 856.1h8v1.5h-8zM3153 847.0h4v1.5h-4zM2892 845.8h4v1.5h-4zM3048 846.3h6v1.5h-6zM3080 846.1h6v1.5h-6zM3102 847.9h2v1.5h-2zM513 872.7h4v1.5h-4zM2062 870.0h3v1.5h-3zM3311 843.4h8v1.5h-8zM3072 847.6h2v1.5h-2zM674 875.0h8v1.5h-8zM3531 846.4h4v1.5h-4zM3620 845.7h8v1.5h-8zM2983 846.6h2v1.5h-2zM1582 881.3h3v1.5h-3zM367 873.7h2v1.5h-2zM3623 845.2h6v1.5h-6zM3533 846.1h8v1.5h-8zM949 877.1h2v1.5h-2zM3363 845.7h4v1.5h-4zM2277 849.5h4v1.5h-4zM1993 872.5h6v1.5h-6zM1201 879.5h3v1.5h-3zM3236 844.6h3v1.5h-3zM1205 880.5h8v1.5h-8zM3527 845.3h6v1.5h-6zM1142 877.5h2v1.5h-2zM1871 882.3h4v1.5h-4zM693 874.7h3v1.5h-3zM3373 845.3h4v1.5h-4zM1104 878.2h2v1.5h-2zM3490 844.9h4v1.5h-4zM3429 845.8h6v1.5h-6zM884 877.2h8v1.5h-8zM3591 844.9h6v1.5h-6zM562 873.3h3v1.5h-3zM547 873.4h6v1.5h-6zM892 876.8h6v1.5h-6zM1216 880.5h4v1.5h-4zM3298 843.9h4v1.5h-4zM2208 851.8h6v1.5h-6zM1974 873.2h2v1.5h-2zM1143 880.1h4v1.5h-4zM803 875.2h6v1.5h-6zM3485 846.6h2v1.5h-2zM2285 848.7h8v1.5h-8zM3024 848.8h6v1.5h-6zM1130 879.6h3v1.5h-3zM3550 846.4h3v1.5h-3zM3448 846.6h2v1.5h-2zM3406 846.2h2v1.5h-2zM572 876.3h3v1.5h-3zM957 875.7h4v1.5h-4zM1722 882.3h2v1.5h-2zM3473 844.6h2v1.5h-2zM3082 845.7h4v1.5h-4zM533 873.4h3v1.5h-3zM1478 882.1h4v1.5h-4zM3084 846.6h8v1.5h-8zM3507 846.6h4v1.5h-4zM1211 879.0h8v1.5h-8zM1574 879.7h6v1.5h-6zM2097 864.8h4v1.5h-4zM3578 845.3h3v1.5h-3zM2906 845.6h6v1.5h-6zM2170 859.4h4v1.5h-4zM653 876.2h2v1.5h-2zM1315 881.1h2v1.5h-2zM404 872.0h3v1.5h-3zM2062 864.8h2v1.5h-2zM1394 882.0h2v1.5h-2zM2297 850.4h6v1.5h-6zM624 874.2h8v1.5h-8zM2002 870.6h3v1.5h-3zM3416 844.5h6v1.5h-6zM2119 863.7h8v1.5h-8zM1798 882.0h4v1.5h-4zM3292 843.3h6v1.5h-6zM2199 855.5h4v1.5h-4zM2242 853.5h6v1.5h-6zM1294 881.2h4v1.5h-4zM1231 878.3h4v1.5h-4zM3413 845.0h3v1.5h-3zM3535 845.5h6v1.5h-6zM980 878.8h4v1.5h-4zM3443 846.4h4v1.5h-4zM727 875.7h6v1.5h-6zM1020 878.7h2v1.5h-2zM1349 879.3h4v1.5h-4zM504 874.4h8v1.5h-8zM2264 844.9h4v1.5h-4zM3385 844.1h8v1.5h-8zM627 875.5h2v1.5h-2zM3466 846.7h6v1.5h-6zM2445 833.0h3v1.5h-3zM995 877.1h8v1.5h-8zM3432 845.1h3v1.5h-3zM3136 845.5h4v1.5h-4zM3301 844.7h8v1.5h-8zM2369 838.3h8v1.5h-8zM3502 846.9h4v1.5h-4zM661 876.8h8v1.5h-8zM2011 869.6h6v1.5h-6zM864 878.1h6v1.5h-6zM3064 846.6h2v1.5h-2zM1298 881.0h6v1.5h-6zM2128 864.0h2v1.5h-2zM2985 846.7h3v1.5h-3zM3345 845.4h2v1.5h-2zM3602 845.3h6v1.5h-6zM2260 849.3h2v1.5h-2zM3382 845.9h4v1.5h-4zM891 876.0h6v1.5h-6zM2341 842.5h2v1.5h-2zM892 878.3h3v1.5h-3zM2791 840.2h2v1.5h-2zM2724 836.6h4v1.5h-4zM3212 847.0h4v1.5h-4zM276 874.2h3v1.5h-3zM579 876.1h3v1.5h-3zM2319 842.3h2v1.5h-2zM1161 879.8h4v1.5h-4zM1366 878.6h8v1.5h-8zM3502 844.4h4v1.5h-4zM1060 879.1h6v1.5h-6zM3061 847.1h6v1.5h-6zM327 874.1h2v1.5h-2zM2305 849.8h8v1.5h-8zM3365 845.7h4v1.5h-4zM3209 844.6h2v1.5h-2zM3173 846.1h2v1.5h-2zM2927 847.5h2v1.5h-2zM3192 846.7h2v1.5h-2zM2316 841.8h8v1.5h-8zM3474 845.9h8v1.5h-8zM598 873.9h3v1.5h-3zM2068 866.8h2v1.5h-2zM3560 846.5h3v1.5h-3zM2051 863.1h2v1.5h-2zM1186 880.4h2v1.5h-2zM3139 845.7h2v1.5h-2zM1449 882.0h3v1.5h-3zM1899 882.1h4v1.5h-4zM3602 846.1h4v1.5h-4zM2258 852.4h4v1.5h-4zM2330 847.0h4v1.5h-4zM2322 841.8h4v1.5h-4zM2377 844.2h8v1.5h-8zM1610 881.7h4v1.5h-4zM3544 844.6h8v1.5h-8zM381 874.7h4v1.5h-4zM3278 844.7h6v1.5h-6zM2296 848.7h2v1.5h-2zM3200 844.1h3v1.5h-3zM2367 845.1h2v1.5h-2zM439 873.8h8v1.5h-8zM1339 877.6h4v1.5h-4zM3322 844.0h3v1.5h-3zM3210 846.8h8v1.5h-8zM2142 856.7h4v1.5h-4zM1259 880.4h8v1.5h-8zM1628 881.2h8v1.5h-8zM3088 847.4h2v1.5h-2zM3576 846.6h2v1.5h-2zM808 875.6h2v1.5h-2zM1195 877.9h6v1.5h-6zM510 874.3h8v1.5h-8zM1521 880.5h6v1.5h-6zM1890 881.8h2v1.5h-2zM1463 878.8h6v1.5h-6zM932 878.2h8v1.5h-8zM841 875.9h2v1.5h-2zM3557 846.6h2v1.5h-2zM3599 845.7h2v1.5h-2zM2174 860.6h6v1.5h-6zM1909 882.2h8v1.5h-8zM996 875.2h2v1.5h-2zM1983 873.5h6v1.5h-6zM2015 872.3h2v1.5h-2zM1411 878.2h2v1.5h-2zM3442 845.1h3v1.5h-3zM1100 877.9h3v1.5h-3zM3590 846.5h3v1.5h-3zM766 877.5h3v1.5h-3zM299 874.0h8v1.5h-8zM3448 846.2h2v1.5h-2zM690 873.2h6v1.5h-6zM3582 845.4h8v1.5h-8zM2076 865.2h3v1.5h-3zM346 874.2h3v1.5h-3zM1135 879.3h6v1.5h-6zM2132 859.5h2v1.5h-2zM2090 862.1h8v1.5h-8zM3431 845.6h6v1.5h-6zM3107 847.4h6v1.5h-6zM827 875.4h8v1.5h-8zM2769 835.1h4v1.5h-4zM3579 846.5h6v1.5h-6zM1250 877.4h2v1.5h-2zM3580 846.5h4v1.5h-4zM3342 845.3h2v1.5h-2zM1601 881.5h2v1.5h-2zM549 876.0h3v1.5h-3zM3565 846.7h4v1.5h-4zM1351 878.3h3v1.5h-3zM893 875.7h3v1.5h-3zM3479 846.8h4v1.5h-4zM3536 845.2h6v1.5h-6zM3447 846.5h8v1.5h-8zM1232 877.2h8v1.5h-8zM1352 879.4h4v1.5h-4zM1261 880.3h8v1.5h-8zM1305 878.8h3v1.5h-3zM3143 844.8h8v1.5h-8zM3549 846.6h8v1.5h-8zM2186 857.1h8v1.5h-8zM3266 846.3h6v1.5h-6zM312 874.7h6v1.5h-6zM777 874.0h3v1.5h-3zM1255 877.7h8v1.5h-8zM3530 843.9h8v1.5h-8zM2141 861.7h2v1.5h-2zM1057 877.3h8v1.5h-8zM2097 868.2h4v1.5h-4zM1589 880.2h3v1.5h-3zM491 872.9h2v1.5h-2zM3566 845.9h3v1.5h-3zM2204 852.3h4v1.5h-4zM1233 878.1h8v1.5h-8zM1833 880.9h8v1.5h-8zM3155 847.5h6v1.5h-6zM1881 881.9h4v1.5h-4zM3031 847.7h6v1.5h-6zM3325 845.4h2v1.5h-2zM395 875.4h6v1.5h-6zM328 874.2h2v1.5h-2zM2167 858.2h2v1.5h-2zM1545 881.8h6v1.5h-6zM2318 846.3h4v1.5h-4zM3434 846.0h4v1.5h-4zM3365 845.7h8v1.5h-8zM1938 880.9h3v1.5h-3zM1353 880.5h3v1.5h-3zM3373 845.8h4v1.5h-4zM1718 879.4h6v1.5h-6zM2036 864.9h3v1.5h-3zM1327 880.7h8v1.5h-8zM2369 844.0h2v1.5h-2zM692 875.3h2v1.5h-2zM1615 882.4h3v1.5h-3zM2133 864.6h6v1.5h-6zM3080 847.1h4v1.5h-4zM1855 882.0h3v1.5h-3zM3385 843.1h2v1.5h-2zM3240 846.5h8v1.5h-8zM2090 863.9h3v1.5h-3zM2012 871.1h6v1.5h-6zM1213 879.0h2v1.5h-2zM278 875.0h3v1.5h-3zM3381 846.0h3v1.5h-3zM3235 846.0h2v1.5h-2zM2941 847.4h8v1.5h-8zM3341 845.2h4v1.5h-4zM1604 880.7h8v1.5h-8zM1154 880.2h2v1.5h-2zM3313 844.4h3v1.5h-3zM3565 845.6h6v1.5h-6zM1570 882.2h6v1.5h-6zM2200 856.3h6v1.5h-6zM3204 845.1h6v1.5h-6zM1283 880.3h3v1.5h-3zM1516 880.9h2v1.5h-2zM3220 846.9h6v1.5h-6zM517 876.4h3v1.5h-3zM1736 879.1h4v1.5h-4zM2556 830.9h2v1.5h-2zM2119 858.7h6v1.5h-6zM1810 880.6h3v1.5h-3zM1468 881.7h8v1.5h-8zM2948 846.6h3v1.5h-3zM2843 843.5h2v1.5h-2zM3160 847.5h4v1.5h-4zM1057 876.0h3v1.5h-3zM1476 882.1h6v1.5h-6zM3288 846.0h8v1.5h-8zM2962 848.7h8v1.5h-8zM301 875.0h4v1.5h-4zM2119 865.4h6v1.5h-6zM3231 846.3h8v1.5h-8zM624 875.8h3v1.5h-3zM3376 846.0h6v1.5h-6zM2244 853.6h8v1.5h-8zM762 876.9h4v1.5h-4zM3526 845.8h3v1.5h-3zM2937 847.3h3v1.5h-3zM3548 844.8h8v1.5h-8zM1385 881.4h2v1.5h-2zM1776 882.7h6v1.5h-6zM452 875.0h6v1.5h-6zM2948 845.9h3v1.5h-3zM1363 880.5h2v1.5h-2zM2039 868.8h8v1.5h-8zM2372 844.5h6v1.5h-6zM1332 879.7h4v1.5h-4zM1981 874.0h3v1.5h-3zM3508 844.3h3v1.5h-3zM2165 861.4h3v1.5h-3zM3631 846.4h4v1.5h-4zM3008 847.4h3v1.5h-3zM2080 869.0h2v1.5h-2zM2205 849.8h2v1.5h-2zM1818 878.8h8v1.5h-8zM1193 877.9h3v1.5h-3zM2055 869.3h4v1.5h-4zM2125 858.9h6v1.5h-6zM501 876.2h6v1.5h-6zM1457 879.9h2v1.5h-2zM2299 850.0h3v1.5h-3zM496 876.2h4v1.5h-4zM3357 845.7h2v1.5h-2zM3436 846.3h2v1.5h-2zM488 876.1h8v1.5h-8zM3615 846.2h2v1.5h-2zM1522 882.0h2v1.5h-2zM1329 880.1h8v1.5h-8zM1715 878.7h6v1.5h-6zM317 873.5h3v1.5h-3zM588 874.8h4v1.5h-4zM2312 848.1h3v1.5h-3zM1164 880.3h3v1.5h-3zM2262 847.6h8v1.5h-8zM3500 847.0h3v1.5h-3zM2863 842.6h2v1.5h-2zM3431 844.6h8v1.5h-8zM3609 845.7h8v1.5h-8zM1611 881.3h8v1.5h-8zM2055 862.6h6v1.5h-6zM3515 846.1h6v1.5h-6zM3462 845.8h6v1.5h-6zM3066 845.5h3v1.5h-3zM1743 882.5h4v1.5h-4zM1011 879.2h3v1.5h-3zM491 876.3h8v1.5h-8zM370 874.7h8v1.5h-8zM783 874.4h6v1.5h-6zM990 878.6h2v1.5h-2zM621 874.4h4v1.5h-4zM1986 870.3h6v1.5h-6zM2875 841.1h8v1.5h-8zM2092 868.0h6v1.5h-6zM1696 880.4h6v1.5h-6zM3217 846.5h2v1.5h-2zM2010 872.6h2v1.5h-2zM1377 881.3h3v1.5h-3zM328 872.2h2v1.5h-2zM1589 882.2h2v1.5h-2zM2156 861.8h8v1.5h-8zM1325 880.3h8v1.5h-8zM3488 846.5h6v1.5h-6zM1122 878.2h8v1.5h-8zM2130 864.8h3v1.5h-3zM1338 880.6h4v1.5h-4zM3412 845.6h2v1.5h-2zM1666 882.1h2v1.5h-2zM1456 879.4h2v1.5h-2zM276 874.2h4v1.5h-4zM3061 847.6h6v1.5h-6zM3557 846.6h2v1.5h-2zM594 872.7h3v1.5h-3zM934 874.7h4v1.5h-4zM3430 843.8h3v1.5h-3zM1336 881.1h3v1.5h-3zM2042 869.6h2v1.5h-2zM1651 879.9h2v1.5h-2z" fill="#d3d3d3"/>
<g fill="#00ffff">
<path d="M376.0 582.0 L400.0 586.0 L448.0 592.0 L495.0 590.0 L545.0 590.0 L590.0 582.0 L602.0 581.0 L622.0 584.0 L622.0 590.0 L602.0 594.0 L592.0 606.0 L545.0 612.0 L470.0 614.0 L431.0 616.0 L395.0 615.0 L389.0 608.0 L376.0 596.0Z"/>
<path d="M268.9 774.9 L291.1 776.5 L300.4 785.0 L293.4 807.5 L298.8 808.3 L297.3 813.0 L292.6 817.6 L289.5 824.6 L283.3 822.3 L281.0 816.9 L277.1 813.0 L275.5 809.1 L268.9 808.3Z"/>
<path d="M364.0 789.7 L371.0 780.4 L376.5 780.4 L379.6 783.5 L384.2 786.6 L392.0 786.6 L392.0 802.1 L388.9 802.9 L384.2 801.3 L381.1 799.0 L372.6 801.3 L368.7 794.3Z"/>
<path d="M419.1 782.9 L420.6 782.9 L420.6 793.9 L419.1 793.9Z"/>
<path d="M943.0 613.0 L958.0 613.0 L958.0 618.0 L943.0 618.0Z"/>
<path d="M1178.0 643.0 L1184.0 643.0 L1184.0 652.0 L1178.0 652.0Z"/>
<path d="M1210.0 638.0 L1215.0 638.0 L1215.0 644.0 L1210.0 644.0Z"/>
<path d="M1192.0 667.0 L1197.0 667.0 L1197.0 686.0 L1192.0 686.0Z"/>
<path d="M1310.0 642.0 L1312.0 642.0 L1312.0 652.0 L1310.0 652.0Z"/>
<path d="M1336.0 640.0 L1347.0 640.0 L1347.0 668.0 L1336.0 668.0Z"/>
<path d="M1421.0 632.0 L1430.0 632.0 L1430.0 660.0 L1421.0 660.0Z"/>
<path d="M1466.8 633.2 L1477.6 620.7 L1502.5 608.3 L1508.7 633.2 L1563.0 658.0 L1555.3 682.9 L1508.7 686.0 L1474.5 667.3Z"/>
<path d="M1423.3 633.2 L1425.6 633.2 L1425.6 648.7 L1423.3 648.7Z"/>
<path d="M1428.7 639.4 L1431.1 639.4 L1431.1 662.7 L1428.7 662.7Z"/>
<path d="M1433.4 627.0 L1434.9 627.0 L1434.9 639.4 L1433.4 639.4Z"/>
<path d="M1438.0 647.1 L1441.1 647.1 L1441.1 656.5 L1438.0 656.5Z"/>
<path d="M1592.5 599.0 L1606.5 592.8 L1609.6 620.7 L1595.7 627.0Z"/>
<path d="M1640.0 612.0 L1671.0 598.0 L1690.0 608.0 L1700.0 612.0 L1720.0 605.0 L1755.0 592.0 L1775.0 588.0 L1800.0 590.0 L1822.0 582.0 L1870.0 580.0 L1884.0 600.0 L1890.0 614.0 L1990.0 614.0 L2000.0 600.0 L2010.0 597.0 L2060.0 600.0 L2080.0 604.0 L2095.0 614.0 L2110.0 614.0 L2125.0 602.0 L2150.0 600.0 L2175.0 598.0 L2195.0 606.0 L2245.0 620.0 L2262.0 640.0 L2262.0 672.0 L2245.0 682.0 L2175.0 683.0 L2150.0 683.0 L2077.0 684.0 L2054.0 687.0 L2008.0 690.0 L1990.0 696.0 L1975.0 696.0 L1960.0 690.0 L1890.0 690.0 L1870.0 692.0 L1800.0 696.0 L1700.0 698.0 L1660.0 696.0 L1640.0 690.0Z"/>
<path d="M1783.1 578.8 L1787.8 578.8 L1787.8 602.1 L1783.1 602.1Z"/>
<path d="M1811.1 591.2 L1817.3 591.2 L1817.3 602.1 L1811.1 602.1Z"/>
<path d="M1879.4 581.9 L1888.7 581.9 L1888.7 614.5 L1879.4 614.5Z"/>
<path d="M1888.7 585.0 L1893.4 585.0 L1893.4 605.2 L1888.7 605.2Z"/>
<path d="M1916.6 586.6 L1920.5 586.6 L1920.5 608.3 L1916.6 608.3Z"/>
<path d="M1938.4 592.8 L1949.3 592.8 L1949.3 617.6 L1938.4 617.6Z"/>
<path d="M1971.0 599.0 L1978.8 599.0 L1978.8 611.4 L1971.0 611.4Z"/>
<path d="M1963.2 609.9 L1969.4 609.9 L1969.4 617.6 L1963.2 617.6Z"/>
<path d="M1995.8 600.6 L2002.0 600.6 L2002.0 613.0 L1995.8 613.0Z"/>
<path d="M2037.8 585.0 L2043.2 585.0 L2043.2 594.3 L2037.8 594.3Z"/>
<path d="M2071.9 592.8 L2075.0 592.8 L2075.0 597.5 L2071.9 597.5Z"/>
<path d="M1681.1 581.1 L1688.0 581.1 L1688.0 605.2 L1681.1 605.2Z"/>
<path d="M1716.8 586.6 L1729.2 586.6 L1729.2 599.0 L1716.8 599.0Z"/>
<path d="M1783.5 578.8 L1792.9 578.8 L1792.9 591.2 L1783.5 591.2Z"/>
<path d="M2268.7 600.7 L2281.1 597.6 L2299.8 616.3 L2306.0 644.2 L2299.8 656.6 L2284.2 638.0 L2268.7 638.0 L2259.4 675.3 L2253.2 678.4 L2247.0 659.8 L2259.4 628.7Z"/>
<path d="M2306.0 566.6 L2352.5 566.6 L2352.5 572.0 L2306.0 572.0Z"/>
<path d="M2360.3 582.9 L2392.9 582.9 L2392.9 585.2 L2360.3 585.2Z"/>
<path d="M2374.3 577.5 L2388.3 577.5 L2388.3 580.6 L2374.3 580.6Z"/>
<path d="M2374.3 588.3 L2385.2 588.3 L2385.2 597.6 L2374.3 597.6Z"/>
<path d="M2346.3 593.0 L2355.7 593.0 L2355.7 607.0 L2346.3 607.0Z"/>
<path d="M2363.4 610.1 L2375.8 610.1 L2375.8 616.3 L2363.4 616.3Z"/>
<path d="M2344.8 625.6 L2354.1 625.6 L2354.1 628.7 L2344.8 628.7Z"/>
<path d="M2374.3 620.9 L2386.7 620.9 L2386.7 628.7 L2374.3 628.7Z"/>
<path d="M2377.4 642.7 L2396.0 642.7 L2396.0 648.9 L2377.4 648.9Z"/>
<path d="M2392.0 630.0 L2404.0 608.0 L2430.0 604.0 L2453.0 600.0 L2475.0 608.0 L2500.0 604.0 L2546.0 606.0 L2570.0 612.0 L2595.0 610.0 L2627.0 628.0 L2627.0 660.0 L2600.0 664.0 L2546.0 664.0 L2500.0 664.0 L2404.0 662.0Z"/>
<path d="M2620.0 579.0 L2690.0 579.0 L2690.0 597.0 L2620.0 597.0Z"/>
<path d="M2735.0 574.0 L2876.0 574.0 L2876.0 598.0 L2735.0 598.0Z"/>
<path d="M2724.8 644.2 L2740.3 644.2 L2740.3 669.1 L2724.8 669.1Z"/>
<path d="M2717.0 669.1 L2737.2 669.1 L2737.2 681.5 L2717.0 681.5Z"/>
<path d="M2689.1 676.8 L2695.3 676.8 L2695.3 695.5 L2689.1 695.5Z"/>
<path d="M2720.9 681.5 L2723.2 681.5 L2723.2 698.6 L2720.9 698.6Z"/>
<path d="M2763.6 644.2 L2782.2 644.2 L2782.2 656.6 L2763.6 656.6Z"/>
<path d="M2827.3 689.3 L2833.5 689.3 L2833.5 698.6 L2827.3 698.6Z"/>
<path d="M2836.6 692.4 L2849.0 692.4 L2849.0 700.1 L2836.6 700.1Z"/>
<path d="M2901.8 620.9 L2940.0 620.9 L2940.0 628.7 L2901.8 628.7Z"/>
<path d="M2892.5 687.7 L2911.1 687.7 L2911.1 700.1 L2892.5 700.1Z"/>
<path d="M2901.8 585.2 L2931.3 585.2 L2931.3 588.3 L2901.8 588.3Z"/>
<path d="M2903.4 593.0 L2931.3 593.0 L2931.3 596.9 L2903.4 596.9Z"/>
<path d="M2605.2 600.7 L2614.5 600.7 L2614.5 604.6 L2605.2 604.6Z"/>
<path d="M2807.1 612.4 L2818.0 612.4 L2818.0 615.5 L2807.1 615.5Z"/>
<path d="M2920.0 583.7 L2931.6 583.7 L2931.6 588.3 L2920.0 588.3Z"/>
<path d="M2920.0 592.2 L2931.6 592.2 L2931.6 596.1 L2920.0 596.1Z"/>
<path d="M2985.2 581.3 L3005.4 581.3 L3005.4 587.5 L2985.2 587.5Z"/>
<path d="M3090.8 619.4 L3118.8 619.4 L3118.8 628.7 L3090.8 628.7Z"/>
<path d="M3201.1 646.6 L3218.1 646.6 L3218.1 655.1 L3201.1 655.1Z"/>
<path d="M3208.8 689.3 L3224.3 689.3 L3224.3 704.8 L3208.8 704.8Z"/>
<path d="M3201.1 689.3 L3235.2 689.3 L3235.2 695.5 L3201.1 695.5Z"/>
<path d="M3239.9 703.2 L3244.5 703.2 L3244.5 714.1 L3239.9 714.1Z"/>
<path d="M3260.1 695.5 L3262.9 695.5 L3262.9 709.4 L3260.1 709.4Z"/>
<path d="M2957.3 687.7 L2966.6 687.7 L2966.6 703.2 L2957.3 703.2Z"/>
<path d="M2968.1 709.4 L2974.3 709.4 L2974.3 716.4 L2968.1 716.4Z"/>
<path d="M2920.0 688.5 L2925.4 688.5 L2925.4 697.0 L2920.0 697.0Z"/>
<path d="M2985.2 656.6 L2994.5 656.6 L2994.5 669.1 L2985.2 669.1Z"/>
<path d="M3428.0 640.0 L3450.0 638.0 L3470.0 650.0 L3560.0 650.0 L3637.0 648.0 L3637.0 692.0 L3480.0 694.0 L3440.0 684.0 L3428.0 670.0Z"/>
<path d="M3336.0 633.0 L3352.0 633.0 L3352.0 640.0 L3336.0 640.0Z"/>
<path d="M3352.0 640.0 L3362.0 640.0 L3362.0 646.0 L3352.0 646.0Z"/>
<path d="M3330.0 668.0 L3336.0 668.0 L3336.0 680.0 L3330.0 680.0Z"/>
<path d="M3378.0 664.0 L3392.0 664.0 L3392.0 676.0 L3378.0 676.0Z"/>
<path d="M3400.0 664.0 L3410.0 664.0 L3410.0 674.0 L3400.0 674.0Z"/>
<path d="M3449.1 620.0 L3458.4 620.0 L3458.4 624.6 L3449.1 624.6Z"/>
<path d="M3514.3 627.7 L3526.7 627.7 L3526.7 633.2 L3514.3 633.2Z"/>
<path d="M3565.5 625.1 L3579.5 625.1 L3579.5 629.3 L3565.5 629.3Z"/>
<path d="M3460.0 799.0 L3486.0 801.0 L3493.0 808.0 L3480.0 811.6 L3463.0 811.0Z"/>
<path d="M3503.0 812.0 L3520.0 806.0 L3534.0 809.0 L3534.0 817.0 L3520.0 813.0Z"/>
<path d="M3309.0 808.0 L3313.0 808.0 L3335.0 836.0 L3333.0 840.0 L3316.0 828.0Z"/>
<path d="M3561.0 808.0 L3572.0 790.0 L3637.0 790.0 L3637.0 822.0 L3572.0 822.0Z"/>
</g><g fill="#ffb6c1">
<path d="M268.9 761.0 L279.0 761.0 L279.0 772.6 L268.9 772.6Z"/>
<path d="M279.0 762.5 L287.2 762.5 L287.2 764.1 L279.0 764.1Z"/>
<path d="M269.3 781.9 L274.0 781.9 L274.0 790.5 L269.3 790.5Z"/>
<path d="M281.0 785.8 L284.8 785.8 L284.8 794.3 L281.0 794.3Z"/>
<path d="M283.3 772.6 L288.7 772.6 L288.7 781.1 L283.3 781.1Z"/>
<path d="M268.9 772.6 L276.3 772.6 L276.3 776.5 L268.9 776.5Z"/>
<path d="M458.9 773.8 L461.6 773.8 L461.6 776.5 L458.9 776.5Z"/>
<path d="M483.0 777.8 L484.8 777.8 L484.8 780.5 L483.0 780.5Z"/>
</g>
<path d="M354.9 759.2V764.0M328.5 759.2h52.8M328.5 764.0h52.8M638.6 872.9V873.6M612.2 872.9h52.8M612.2 873.6h52.8M990.8 874.2V875.3M964.4 874.2h52.8M964.4 875.3h52.8M1084.0 883.8V884.8M1057.6 883.8h52.8M1057.6 884.8h52.8M1178.8 874.2V875.3M1152.4 874.2h52.8M1152.4 875.3h52.8M1248.9 837.0V915.8M1222.5 837.0h52.8M1222.5 915.8h52.8M3252.4 890.5V895.4M3226.0 890.5h52.8M3226.0 895.4h52.8M3323.6 884.6V892.7M3297.2 884.6h52.8M3297.2 892.7h52.8M425.1 876.0V884.2M398.7 876.0h52.8M398.7 884.2h52.8M471.6 875.0V881.4M445.2 875.0h52.8M445.2 881.4h52.8M1773.6 891.9V963.9M1747.2 891.9h52.8M1747.2 963.9h52.8M2148.4 900.9V948.4M2122.0 900.9h52.8M2122.0 948.4h52.8M2218.2 894.6V948.4M2191.8 894.6h52.8M2191.8 948.4h52.8M2244.0 901.4V939.5M2217.6 901.4h52.8M2217.6 939.5h52.8M2358.7 900.9V926.7M2332.3 900.9h52.8M2332.3 926.7h52.8M2666.0 891.9V911.5M2639.6 891.9h52.8M2639.6 911.5h52.8M2689.7 891.1V911.5M2663.3 891.1h52.8M2663.3 911.5h52.8M2786.1 891.1V903.6M2759.7 891.1h52.8M2759.7 903.6h52.8M2878.8 887.0V904.7M2852.4 887.0h52.8M2852.4 904.7h52.8M2901.1 885.7V903.6M2874.7 885.7h52.8M2874.7 903.6h52.8M2925.5 886.5V904.1M2899.1 886.5h52.8M2899.1 904.1h52.8M2971.7 885.1V903.6M2945.3 885.1h52.8M2945.3 903.6h52.8" fill="none" stroke="#32cd32" stroke-width="4"/>
<path d="M3573.3 782.0h24.6l-12.3 21.3zM3599.2 780.5h24.6l-12.3 21.3zM3624.5 780.5h24.6l-12.3 21.3zM2797.2 705.1h24.6l-12.3 -21.3zM2868.7 708.9h24.6l-12.3 -21.3zM3573.3 828.4h24.6l-12.3 -21.3zM3599.2 826.1h24.6l-12.3 -21.3zM3624.5 826.1h24.6l-12.3 -21.3z" fill="none" stroke="#ff0000" stroke-width="5.8"/>
<path d="M358.6 569.2h34.6l-17.3 30.0zM382.8 576.1h34.6l-17.3 30.0zM407.8 578.3h34.6l-17.3 30.0zM430.6 582.0h34.6l-17.3 30.0zM454.3 581.1h34.6l-17.3 30.0zM478.1 577.0h34.6l-17.3 30.0zM500.9 577.0h34.6l-17.3 30.0zM525.5 581.1h34.6l-17.3 30.0zM551.0 574.1h34.6l-17.3 30.0zM573.8 571.9h34.6l-17.3 30.0zM289.2 757.0h34.6l-17.3 30.0zM312.6 757.0h34.6l-17.3 30.0zM1443.3 607.5h34.6l-17.3 30.0zM1466.6 607.5h34.6l-17.3 30.0zM1487.0 623.9h34.6l-17.3 30.0zM1514.7 630.1h34.6l-17.3 30.0zM1538.0 630.8h34.6l-17.3 30.0zM1561.3 633.2h34.6l-17.3 30.0zM1584.6 627.0h34.6l-17.3 30.0zM1607.9 620.7h34.6l-17.3 30.0zM1630.7 599.0h34.6l-17.3 30.0zM1653.8 587.2h34.6l-17.3 30.0zM1679.4 605.0h34.6l-17.3 30.0zM1701.1 597.1h34.6l-17.3 30.0zM1736.2 584.1h34.6l-17.3 30.0zM1756.2 580.2h34.6l-17.3 30.0zM1803.8 575.4h34.6l-17.3 30.0zM1826.4 574.5h34.6l-17.3 30.0zM1851.2 573.4h34.6l-17.3 30.0zM1873.7 620.7h34.6l-17.3 30.0zM1896.2 623.1h34.6l-17.3 30.0zM1921.1 621.5h34.6l-17.3 30.0zM1945.9 623.9h34.6l-17.3 30.0zM1964.6 611.4h34.6l-17.3 30.0zM1991.0 591.2h34.6l-17.3 30.0zM2015.8 595.1h34.6l-17.3 30.0zM2036.8 595.1h34.6l-17.3 30.0zM2061.6 598.2h34.6l-17.3 30.0zM2085.7 611.4h34.6l-17.3 30.0zM2106.6 597.5h34.6l-17.3 30.0zM2132.3 594.0h34.6l-17.3 30.0zM2155.6 594.0h34.6l-17.3 30.0zM2177.6 600.7h34.6l-17.3 30.0zM2201.7 607.0h34.6l-17.3 30.0zM2226.6 613.2h34.6l-17.3 30.0zM2246.4 606.2h34.6l-17.3 30.0zM2271.6 593.3h34.6l-17.3 30.0zM2317.4 586.0h34.6l-17.3 30.0zM2386.5 602.3h34.6l-17.3 30.0zM2412.9 598.4h34.6l-17.3 30.0zM2436.2 595.3h34.6l-17.3 30.0zM2457.9 603.1h34.6l-17.3 30.0zM2482.0 598.7h34.6l-17.3 30.0zM2506.1 599.5h34.6l-17.3 30.0zM2529.3 600.3h34.6l-17.3 30.0zM2553.0 607.0h34.6l-17.3 30.0zM2577.8 605.1h34.6l-17.3 30.0zM2600.3 610.1h34.6l-17.3 30.0zM2624.4 571.2h34.6l-17.3 30.0zM2649.3 571.2h34.6l-17.3 30.0zM2670.2 620.2h34.6l-17.3 30.0zM2649.3 636.5h34.6l-17.3 30.0zM2695.8 628.7h34.6l-17.3 30.0zM2721.5 570.0h34.6l-17.3 30.0zM2744.0 564.3h34.6l-17.3 30.0zM2767.3 564.3h34.6l-17.3 30.0zM2791.3 570.0h34.6l-17.3 30.0zM2814.6 567.0h34.6l-17.3 30.0zM2837.9 572.0h34.6l-17.3 30.0zM2862.8 621.2h34.6l-17.3 30.0zM2884.5 628.7h34.6l-17.3 30.0zM2909.3 629.5h34.6l-17.3 30.0zM2792.2 670.0h34.6l-17.3 30.0zM2863.2 673.2h34.6l-17.3 30.0zM2933.8 624.3h34.6l-17.3 30.0zM2908.9 628.7h34.6l-17.3 30.0zM2954.7 643.4h34.6l-17.3 30.0zM3049.4 620.9h34.6l-17.3 30.0zM3024.6 620.9h34.6l-17.3 30.0zM3330.8 650.6h34.6l-17.3 30.0zM3355.7 626.2h34.6l-17.3 30.0zM3377.4 627.0h34.6l-17.3 30.0zM3402.3 618.4h34.6l-17.3 30.0zM3426.3 626.2h34.6l-17.3 30.0zM3448.1 633.2h34.6l-17.3 30.0zM3471.4 637.0h34.6l-17.3 30.0zM3496.2 639.4h34.6l-17.3 30.0zM3518.7 640.9h34.6l-17.3 30.0zM3544.3 639.4h34.6l-17.3 30.0zM3568.4 637.0h34.6l-17.3 30.0zM3591.7 637.0h34.6l-17.3 30.0zM3613.4 634.3h34.6l-17.3 30.0zM393.2 601.7h-34.6l17.3 -30.0zM417.4 606.6h-34.6l17.3 -30.0zM442.4 609.0h-34.6l17.3 -30.0zM465.2 615.7h-34.6l17.3 -30.0zM488.9 615.7h-34.6l17.3 -30.0zM512.7 615.7h-34.6l17.3 -30.0zM535.5 615.7h-34.6l17.3 -30.0zM560.1 616.6h-34.6l17.3 -30.0zM585.6 611.5h-34.6l17.3 -30.0zM608.4 603.9h-34.6l17.3 -30.0zM488.9 627.6h-34.6l17.3 -30.0zM322.9 807.5h-34.6l17.3 -30.0zM347.2 807.5h-34.6l17.3 -30.0zM372.2 804.4h-34.6l17.3 -30.0zM1477.1 665.0h-34.6l17.3 -30.0zM1501.2 686.7h-34.6l17.3 -30.0zM1524.4 703.8h-34.6l17.3 -30.0zM1548.5 710.5h-34.6l17.3 -30.0zM1572.6 703.8h-34.6l17.3 -30.0zM1595.9 701.5h-34.6l17.3 -30.0zM1619.2 699.9h-34.6l17.3 -30.0zM1642.5 696.8h-34.6l17.3 -30.0zM1665.3 696.5h-34.6l17.3 -30.0zM1688.4 698.0h-34.6l17.3 -30.0zM1714.0 700.0h-34.6l17.3 -30.0zM1735.7 700.0h-34.6l17.3 -30.0zM1759.3 701.5h-34.6l17.3 -30.0zM1781.3 699.0h-34.6l17.3 -30.0zM1802.3 697.0h-34.6l17.3 -30.0zM1815.2 697.3h-34.6l17.3 -30.0zM1840.0 697.3h-34.6l17.3 -30.0zM1861.0 695.0h-34.6l17.3 -30.0zM1885.8 691.9h-34.6l17.3 -30.0zM1908.3 694.2h-34.6l17.3 -30.0zM1930.8 694.2h-34.6l17.3 -30.0zM1955.7 690.3h-34.6l17.3 -30.0zM1980.5 692.7h-34.6l17.3 -30.0zM2001.5 702.0h-34.6l17.3 -30.0zM2025.6 692.7h-34.6l17.3 -30.0zM2050.4 691.1h-34.6l17.3 -30.0zM2071.4 687.2h-34.6l17.3 -30.0zM2094.7 687.2h-34.6l17.3 -30.0zM2119.5 687.2h-34.6l17.3 -30.0zM2142.8 686.5h-34.6l17.3 -30.0zM2166.9 685.7h-34.6l17.3 -30.0zM2190.2 686.5h-34.6l17.3 -30.0zM2211.5 685.4h-34.6l17.3 -30.0zM2236.3 684.3h-34.6l17.3 -30.0zM2261.2 685.4h-34.6l17.3 -30.0zM2281.3 675.3h-34.6l17.3 -30.0zM2307.0 666.0h-34.6l17.3 -30.0zM2352.0 616.0h-34.6l17.3 -30.0zM2421.9 671.4h-34.6l17.3 -30.0zM2447.5 671.4h-34.6l17.3 -30.0zM2470.8 673.0h-34.6l17.3 -30.0zM2492.5 673.0h-34.6l17.3 -30.0zM2516.6 673.0h-34.6l17.3 -30.0zM2540.7 676.1h-34.6l17.3 -30.0zM2563.9 673.7h-34.6l17.3 -30.0zM2587.6 673.0h-34.6l17.3 -30.0zM2612.4 673.0h-34.6l17.3 -30.0zM2634.9 673.0h-34.6l17.3 -30.0zM2705.6 675.3h-34.6l17.3 -30.0zM2730.4 675.3h-34.6l17.3 -30.0zM2659.0 605.4h-34.6l17.3 -30.0zM2683.9 605.4h-34.6l17.3 -30.0zM2756.1 602.3h-34.6l17.3 -30.0zM2778.6 602.3h-34.6l17.3 -30.0zM2801.9 602.3h-34.6l17.3 -30.0zM2825.9 602.3h-34.6l17.3 -30.0zM2849.2 602.3h-34.6l17.3 -30.0zM2872.5 602.3h-34.6l17.3 -30.0zM2826.7 675.3h-34.6l17.3 -30.0zM2919.1 676.8h-34.6l17.3 -30.0zM2943.9 683.0h-34.6l17.3 -30.0zM2943.5 683.0h-34.6l17.3 -30.0zM2968.4 683.0h-34.6l17.3 -30.0zM2989.3 709.8h-34.6l17.3 -30.0zM3038.2 659.8h-34.6l17.3 -30.0zM3059.2 666.7h-34.6l17.3 -30.0zM3365.4 697.6h-34.6l17.3 -30.0zM3390.3 686.7h-34.6l17.3 -30.0zM3412.0 686.7h-34.6l17.3 -30.0zM3436.9 677.4h-34.6l17.3 -30.0zM3460.9 693.0h-34.6l17.3 -30.0zM3482.7 696.1h-34.6l17.3 -30.0zM3506.0 709.3h-34.6l17.3 -30.0zM3530.8 709.3h-34.6l17.3 -30.0zM3553.3 709.3h-34.6l17.3 -30.0zM3578.9 701.5h-34.6l17.3 -30.0zM3603.0 704.6h-34.6l17.3 -30.0zM3626.3 704.6h-34.6l17.3 -30.0zM3648.0 704.6h-34.6l17.3 -30.0z" fill="#ff0000"/>
<g fill="#32cd32">
<circle cx="330.2" cy="784.7" r="16.5"/>
<circle cx="354.9" cy="774.7" r="16.5"/>
<circle cx="638.6" cy="873.2" r="16.5"/>
<circle cx="990.8" cy="873.7" r="16.5"/>
<circle cx="1084.0" cy="884.3" r="16.5"/>
<circle cx="1178.8" cy="873.7" r="16.5"/>
<circle cx="1204.1" cy="884.6" r="16.5"/>
<circle cx="1248.9" cy="877.0" r="16.5"/>
<circle cx="3252.4" cy="893.3" r="16.5"/>
<circle cx="3323.6" cy="885.1" r="16.5"/>
</g>
<g fill="#fff" stroke="#32cd32" stroke-width="5">
<circle cx="425.1" cy="878.7" r="13.2"/>
<circle cx="471.6" cy="877.4" r="13.2"/>
<circle cx="1773.6" cy="923.2" r="13.2"/>
<circle cx="2148.4" cy="924.5" r="13.2"/>
<circle cx="2218.2" cy="922.3" r="13.2"/>
<circle cx="2244.0" cy="919.9" r="13.2"/>
<circle cx="2358.7" cy="913.6" r="13.2"/>
<circle cx="2666.0" cy="902.2" r="13.2"/>
<circle cx="2689.7" cy="901.4" r="13.2"/>
<circle cx="2786.1" cy="897.9" r="13.2"/>
<circle cx="2878.8" cy="896.0" r="13.2"/>
<circle cx="2901.1" cy="894.6" r="13.2"/>
<circle cx="2925.5" cy="895.4" r="13.2"/>
<circle cx="2971.7" cy="894.6" r="13.2"/>
</g>
<path d="M400.1 628.1V679.0M373.7 628.1h52.8M373.7 679.0h52.8M447.9 634.9V696.0M421.5 634.9h52.8M421.5 696.0h52.8M495.4 630.7V676.8M469.0 630.7h52.8M469.0 676.8h52.8M518.2 625.8V675.9M491.8 625.8h52.8M491.8 675.9h52.8M542.8 627.2V677.7M516.4 627.2h52.8M516.4 677.7h52.8M568.3 627.2V677.7M541.9 627.2h52.8M541.9 677.7h52.8M591.1 627.2V675.9M564.7 627.2h52.8M564.7 675.9h52.8M614.9 644.9V693.8M588.5 644.9h52.8M588.5 693.8h52.8M305.6 765.6V771.6M279.2 765.6h52.8M279.2 771.6h52.8M375.9 761.0V764.7M349.5 761.0h52.8M349.5 764.7h52.8M1273.5 467.0V748.8M1247.1 467.0h52.8M1247.1 748.8h52.8M1459.8 623.1V661.9M1433.4 623.1h52.8M1433.4 661.9h52.8M1483.9 657.2V676.2M1457.5 657.2h52.8M1457.5 676.2h52.8M1532.0 627.7V669.7M1505.6 627.7h52.8M1505.6 669.7h52.8M1577.0 654.9V689.8M1550.6 654.9h52.8M1550.6 689.8h52.8M1625.2 582.7V621.5M1598.8 582.7h52.8M1598.8 621.5h52.8M1891.8 647.1V653.4M1865.4 647.1h52.8M1865.4 653.4h52.8M2032.3 640.2V646.4M2005.9 640.2h52.8M2005.9 646.4h52.8M2078.1 636.3V642.5M2051.7 636.3h52.8M2051.7 642.5h52.8M2102.2 654.9V660.8M2075.8 654.9h52.8M2075.8 660.8h52.8M2123.9 642.8V648.7M2097.5 642.8h52.8M2097.5 648.7h52.8M2264.0 651.2V656.6M2237.6 651.2h52.8M2237.6 656.6h52.8M2288.9 553.9V605.9M2262.5 553.9h52.8M2262.5 605.9h52.8M2313.0 587.5V621.7M2286.6 587.5h52.8M2286.6 621.7h52.8M2334.7 530.9V635.7M2308.3 530.9h52.8M2308.3 635.7h52.8M2383.6 662.1V669.8M2357.2 662.1h52.8M2357.2 669.8h52.8M2404.6 622.5V630.2M2378.2 622.5h52.8M2378.2 630.2h52.8M2430.2 622.5V630.2M2403.8 622.5h52.8M2403.8 630.2h52.8M2453.5 556.0V600.0M2427.1 556.0h52.8M2427.1 600.0h52.8M2475.2 557.0V600.7M2448.8 557.0h52.8M2448.8 600.7h52.8M2499.3 587.5V622.5M2472.9 587.5h52.8M2472.9 622.5h52.8M2546.6 583.7V627.1M2520.2 583.7h52.8M2520.2 627.1h52.8M2569.5 596.1V627.5M2543.1 596.1h52.8M2543.1 627.5h52.8M2595.1 553.9V614.4M2568.7 553.9h52.8M2568.7 614.4h52.8M2617.6 611.6V639.9M2591.2 611.6h52.8M2591.2 639.9h52.8M2641.7 570.0V626.1M2615.3 570.0h52.8M2615.3 626.1h52.8M2713.1 566.6V622.8M2686.7 566.6h52.8M2686.7 622.8h52.8M2738.8 592.2V634.1M2712.4 592.2h52.8M2712.4 634.1h52.8M2760.5 584.9V636.8M2734.1 584.9h52.8M2734.1 636.8h52.8M2810.2 627.9V678.7M2783.8 627.9h52.8M2783.8 678.7h52.8M2832.7 625.3V682.3M2806.3 625.3h52.8M2806.3 682.3h52.8M2856.0 622.0V682.3M2829.6 622.0h52.8M2829.6 682.3h52.8M2951.1 630.7V676.1M2924.7 630.7h52.8M2924.7 676.1h52.8M2996.1 610.8V652.0M2969.7 610.8h52.8M2969.7 652.0h52.8M3020.9 572.0V680.7M2994.5 572.0h52.8M2994.5 680.7h52.8M3041.9 601.8V689.3M3015.5 601.8h52.8M3015.5 689.3h52.8M3066.7 609.8V687.4M3040.3 609.8h52.8M3040.3 687.4h52.8M3091.6 589.9V697.0M3065.2 589.9h52.8M3065.2 697.0h52.8M3112.5 591.7V704.0M3086.1 591.7h52.8M3086.1 704.0h52.8M3231.3 643.0V685.4M3204.9 643.0h52.8M3204.9 685.4h52.8M3348.1 451.2V891.9M3321.7 451.2h52.8M3321.7 891.9h52.8M3394.7 628.8V679.8M3368.3 628.8h52.8M3368.3 679.8h52.8M3419.6 588.9V718.9M3393.2 588.9h52.8M3393.2 718.9h52.8M3443.6 637.8V695.3M3417.2 637.8h52.8M3417.2 695.3h52.8M3465.4 611.0V683.6M3439.0 611.0h52.8M3439.0 683.6h52.8M3488.7 631.6V693.7M3462.3 631.6h52.8M3462.3 693.7h52.8M3513.5 639.4V695.3M3487.1 639.4h52.8M3487.1 695.3h52.8M3561.6 635.8V693.0M3535.2 635.8h52.8M3535.2 693.0h52.8M3585.7 642.8V693.0M3559.3 642.8h52.8M3559.3 693.0h52.8M3630.7 648.7V689.1M3604.3 648.7h52.8M3604.3 689.1h52.8M425.1 660.4V681.9M398.7 660.4h52.8M398.7 681.9h52.8M471.6 659.5V683.2M445.2 659.5h52.8M445.2 683.2h52.8M1773.5 612.2V626.5M1747.1 612.2h52.8M1747.1 626.5h52.8M2148.8 603.7V616.9M2122.4 603.7h52.8M2122.4 616.9h52.8M2218.2 610.8V638.8M2191.8 610.8h52.8M2191.8 638.8h52.8M2243.9 619.4V638.8M2217.5 619.4h52.8M2217.5 638.8h52.8M2359.1 635.7V655.1M2332.7 635.7h52.8M2332.7 655.1h52.8M2666.6 645.8V670.9M2640.2 645.8h52.8M2640.2 670.9h52.8M2688.3 648.9V666.7M2661.9 648.9h52.8M2661.9 666.7h52.8M2784.6 653.9V678.4M2758.2 653.9h52.8M2758.2 678.4h52.8M2880.1 653.5V675.3M2853.7 653.5h52.8M2853.7 675.3h52.8M2901.8 645.0V668.3M2875.4 645.0h52.8M2875.4 668.3h52.8M2926.6 654.3V676.1M2900.2 654.3h52.8M2900.2 676.1h52.8M2972.0 654.3V676.1M2945.6 654.3h52.8M2945.6 676.1h52.8" fill="none" stroke="#0000ff" stroke-width="4"/>
<g fill="#0000ff">
<circle cx="400.1" cy="653.1" r="16.5"/>
<circle cx="447.9" cy="665.0" r="16.5"/>
<circle cx="495.4" cy="651.3" r="16.5"/>
<circle cx="518.2" cy="650.4" r="16.5"/>
<circle cx="542.8" cy="651.3" r="16.5"/>
<circle cx="568.3" cy="651.3" r="16.5"/>
<circle cx="591.1" cy="651.3" r="16.5"/>
<circle cx="614.9" cy="668.6" r="16.5"/>
<circle cx="305.6" cy="768.3" r="16.5"/>
<circle cx="375.9" cy="762.8" r="16.5"/>
<circle cx="1273.5" cy="607.5" r="16.5"/>
<circle cx="1459.8" cy="641.7" r="16.5"/>
<circle cx="1483.9" cy="666.6" r="16.5"/>
<circle cx="1507.1" cy="654.9" r="16.5"/>
<circle cx="1532.0" cy="648.7" r="16.5"/>
<circle cx="1555.3" cy="644.0" r="16.5"/>
<circle cx="1577.0" cy="672.0" r="16.5"/>
<circle cx="1601.9" cy="645.6" r="16.5"/>
<circle cx="1625.2" cy="600.6" r="16.5"/>
<circle cx="1648.4" cy="655.7" r="16.5"/>
<circle cx="1671.7" cy="640.9" r="16.5"/>
<circle cx="1695.0" cy="641.7" r="16.5"/>
<circle cx="1716.8" cy="644.0" r="16.5"/>
<circle cx="1738.5" cy="636.3" r="16.5"/>
<circle cx="1757.1" cy="634.7" r="16.5"/>
<circle cx="1797.9" cy="616.1" r="16.5"/>
<circle cx="1821.9" cy="618.4" r="16.5"/>
<circle cx="1843.7" cy="624.6" r="16.5"/>
<circle cx="1867.7" cy="624.6" r="16.5"/>
<circle cx="1891.8" cy="650.2" r="16.5"/>
<circle cx="1914.3" cy="643.3" r="16.5"/>
<circle cx="1938.4" cy="637.0" r="16.5"/>
<circle cx="1963.2" cy="643.3" r="16.5"/>
<circle cx="1985.0" cy="637.8" r="16.5"/>
<circle cx="2008.3" cy="624.6" r="16.5"/>
<circle cx="2032.3" cy="643.3" r="16.5"/>
<circle cx="2054.1" cy="617.6" r="16.5"/>
<circle cx="2078.1" cy="639.4" r="16.5"/>
<circle cx="2102.2" cy="658.0" r="16.5"/>
<circle cx="2123.9" cy="645.6" r="16.5"/>
<circle cx="2174.4" cy="623.9" r="16.5"/>
<circle cx="2194.2" cy="626.4" r="16.5"/>
<circle cx="2264.0" cy="654.3" r="16.5"/>
<circle cx="2288.9" cy="579.8" r="16.5"/>
<circle cx="2313.0" cy="604.6" r="16.5"/>
<circle cx="2334.7" cy="583.7" r="16.5"/>
<circle cx="2383.6" cy="666.0" r="16.5"/>
<circle cx="2404.6" cy="626.4" r="16.5"/>
<circle cx="2430.2" cy="625.6" r="16.5"/>
<circle cx="2453.5" cy="577.5" r="16.5"/>
<circle cx="2475.2" cy="578.2" r="16.5"/>
<circle cx="2499.3" cy="604.6" r="16.5"/>
<circle cx="2523.4" cy="611.6" r="16.5"/>
<circle cx="2546.6" cy="603.9" r="16.5"/>
<circle cx="2569.5" cy="611.6" r="16.5"/>
<circle cx="2595.1" cy="587.5" r="16.5"/>
<circle cx="2617.6" cy="625.6" r="16.5"/>
<circle cx="2641.7" cy="598.4" r="16.5"/>
<circle cx="2713.1" cy="595.3" r="16.5"/>
<circle cx="2738.8" cy="611.6" r="16.5"/>
<circle cx="2760.5" cy="610.1" r="16.5"/>
<circle cx="2810.2" cy="652.8" r="16.5"/>
<circle cx="2832.7" cy="653.5" r="16.5"/>
<circle cx="2856.0" cy="652.8" r="16.5"/>
<circle cx="2951.1" cy="653.5" r="16.5"/>
<circle cx="2996.1" cy="631.8" r="16.5"/>
<circle cx="3020.9" cy="626.4" r="16.5"/>
<circle cx="3041.9" cy="645.8" r="16.5"/>
<circle cx="3066.7" cy="648.9" r="16.5"/>
<circle cx="3091.6" cy="643.4" r="16.5"/>
<circle cx="3112.5" cy="648.1" r="16.5"/>
<circle cx="3231.3" cy="664.4" r="16.5"/>
<circle cx="3348.1" cy="670.4" r="16.5"/>
<circle cx="3372.2" cy="654.9" r="16.5"/>
<circle cx="3394.7" cy="655.7" r="16.5"/>
<circle cx="3419.6" cy="654.1" r="16.5"/>
<circle cx="3443.6" cy="665.0" r="16.5"/>
<circle cx="3465.4" cy="647.1" r="16.5"/>
<circle cx="3488.7" cy="662.7" r="16.5"/>
<circle cx="3513.5" cy="667.3" r="16.5"/>
<circle cx="3536.0" cy="658.0" r="16.5"/>
<circle cx="3561.6" cy="662.7" r="16.5"/>
<circle cx="3585.7" cy="665.8" r="16.5"/>
<circle cx="3609.0" cy="667.3" r="16.5"/>
<circle cx="3630.7" cy="667.3" r="16.5"/>
</g>
<g fill="#fff" stroke="#0000ff" stroke-width="5">
<circle cx="425.1" cy="671.0" r="13.2"/>
<circle cx="471.6" cy="671.4" r="13.2"/>
<circle cx="1773.5" cy="619.4" r="13.2"/>
<circle cx="2148.8" cy="610.7" r="13.2"/>
<circle cx="2218.2" cy="619.4" r="13.2"/>
<circle cx="2243.9" cy="628.7" r="13.2"/>
<circle cx="2359.1" cy="645.0" r="13.2"/>
<circle cx="2666.6" cy="658.2" r="13.2"/>
<circle cx="2688.3" cy="657.4" r="13.2"/>
<circle cx="2784.6" cy="666.0" r="13.2"/>
<circle cx="2880.1" cy="664.4" r="13.2"/>
<circle cx="2901.8" cy="656.6" r="13.2"/>
<circle cx="2926.6" cy="665.2" r="13.2"/>
<circle cx="2972.0" cy="665.2" r="13.2"/>
</g>
<g fill="none" stroke="#000" stroke-width="3.9" stroke-linejoin="round">
<path d="M266.0 184.5 L357.0 194.6 L434.7 200.5 L458.0 201.6 L467.7 195.8 L512.3 190.8 L547.3 189.6 L667.6 195.8 L690.9 198.5 L735.5 212.9 L826.8 228.8 L958.8 237.3 L1114.0 246.3 L1260.0 249.0 L1337.3 252.3 L1361.6 252.3 L1444.1 248.9 L1492.6 237.8 L1541.2 229.0 L1662.5 228.1 L1735.3 223.2 L1783.8 221.3 L1832.3 223.2 L1900.0 227.2 L2008.7 237.2 L2117.4 248.9 L2198.9 258.2 L2223.4 261.7 L2256.0 260.9 L2280.4 254.9 L2306.3 251.4 L2307.6 243.2 L2299.5 238.6 L2284.5 227.7 L2261.4 219.6 L2247.8 214.7 L2226.1 203.3 L2212.5 193.8 L2194.8 178.8 L2159.5 171.5 L2167.7 162.5 L2087.5 153.0 L2048.1 139.9 L2048.9 124.5 L2029.9 118.2 L2090.2 123.1 L2125.5 130.4 L2126.1 144.8 L2171.7 150.3 L2226.1 157.1 L2262.8 166.6"/>
<path d="M2341.6 200.0 L2443.5 207.3 L2525.0 214.1 L2600.0 221.7 L2640.8 227.0 L2836.4 227.8 L2934.2 229.0 L3007.6 231.1 L3056.5 232.3 L3076.9 231.9 L3089.1 229.0 L3072.8 223.8 L3028.0 215.6 L2966.9 204.6 L2928.1 196.0 L2915.9 178.9 L2873.1 171.6 L2922.0 176.1 L3028.0 176.1 L3072.8 174.0 L3109.5 179.7 L3211.4 190.3 L3292.9 189.1 L3415.2 184.2 L3496.7 184.2 L3578.3 187.1 L3637.4 187.9"/>
<path d="M2257.3 300.5 L2302.2 293.5 L2340.2 292.4 L2372.8 292.9 L2431.3 299.2 L2446.2 307.9 L2427.2 313.3 L2402.7 316.8 L2362.0 316.0 L2323.9 310.6 L2275.0 304.3 L2257.3 300.5"/>
<path d="M1195.2 460.5 L1137.6 461.6 L1083.3 462.7 L1001.7 465.7 L945.2 469.2 L1001.7 471.1 L1083.3 474.3 L1137.6 476.0 L1208.3 477.1 L1300.7 477.6 L1355.0 481.1 L1400.0 481.5 L1481.5 482.0 L1603.8 477.9 L1726.1 474.2 L1807.6 472.2 L1891.2 468.9 L1828.0 464.0 L1766.8 460.8 L1705.7 458.7 L1603.8 457.9 L1501.9 455.9 L1430.0 455.4 L1382.2 456.1 L1308.8 459.4"/>
<path d="M1934.0 459.5 L1946.2 459.5"/>
<path d="M266.0 510.5 L388.2 512.9 L485.2 511.5 L548.3 508.5 L679.3 510.5 L730.0 513.2 L784.3 516.5 L860.4 519.5 L1001.7 519.5 L1137.6 519.5 L1153.9 518.9 L1259.9 517.3 L1327.8 514.6 L1400.0 514.2 L1522.3 511.7 L1664.9 507.6 L1807.6 506.8 L1889.1 508.5 L1950.3 507.6 L2011.4 502.7 L2033.8 499.5 L2035.9 490.1 L2044.0 486.0 L2084.8 479.9 L2174.5 479.5 L2256.0 476.3 L2337.5 473.0 L2450.0 472.6 L2543.2 475.9 L2659.6 479.6 L2682.9 470.3 L2799.4 462.9 L2873.9 461.9"/>
<path d="M2988.0 462.9 L3214.0 462.9 L3381.7 466.6 L3484.1 468.0 L3495.8 463.3 L3507.4 468.9 L3582.0 478.2 L3584.3 482.9 L3604.3 489.9 L3577.3 494.5 L3498.1 499.2 L3381.7 494.5 L3195.3 492.2 L3071.9 488.5 L2962.4 499.2 L2892.5 500.1 L2766.8 497.8 L2608.4 506.2 L2589.7 510.8 L2450.0 513.2 L2378.3 512.5 L2313.1 513.7 L2302.9 517.0 L2256.0 519.9 L2174.5 522.7 L2092.9 526.8 L2011.4 530.9 L1929.9 535.4 L1848.4 538.2 L1726.1 539.0 L1583.4 539.4 L1430.0 537.5 L1355.0 539.0 L1273.5 541.7 L1197.4 542.3 L1102.3 540.1 L947.4 539.6 L903.9 540.1 L871.3 545.0 L846.8 546.9 L730.0 546.9 L679.3 546.4 L630.8 544.4 L485.2 537.7 L407.6 534.3 L339.7 538.6 L266.0 537.7"/>
<path d="M266.0 616.3 L327.5 618.5 L406.0 620.3 L730.0 621.1 L914.8 621.6 L982.7 622.4 L1061.5 620.3 L1192.0 619.2 L1430.0 619.2 L1558.7 618.9"/>
<path d="M1671.0 620.0 L1834.0 620.0 L1836.0 618.4 L2160.0 618.9 L2540.0 617.8 L2920.0 617.8 L3160.0 615.0 L3320.0 613.7 L3500.0 613.0 L3637.0 611.9"/>
<path d="M266.0 691.1 L730.0 691.2 L751.7 690.4 L865.9 689.0 L925.7 687.9 L1105.0 687.9 L1106.0 689.0 L1430.0 689.0 L1558.7 688.8"/>
<path d="M1670.0 688.8 L2014.0 689.1 L2016.0 687.5 L2540.0 687.4 L2920.0 687.4 L3175.0 688.5 L3320.0 689.7 L3413.0 689.8 L3415.0 691.4 L3637.0 691.9"/>
<path d="M266.0 768.9 L728.0 767.4 L1250.0 768.3 L1551.0 765.0"/>
<path d="M1672.2 765.4 L1929.4 763.5 L2500.0 766.9 L2771.7 768.3 L2985.3 766.9 L3422.0 766.5 L3637.0 767.0"/>
<path d="M266.0 872.3 L700.0 872.9 L1050.0 871.0 L1400.0 871.5 L1559.0 871.6"/>
<path d="M1670.0 873.7 L1807.0 874.8 L1943.0 875.9 L2100.0 877.0 L2800.0 877.8 L3240.0 879.1 L3637.0 879.1"/>
<path d="M266.0 897.9 L540.0 895.1 L700.0 894.1 L1156.0 895.4 L1559.0 895.4"/>
<path d="M1668.0 895.4 L2100.0 895.4 L2800.0 896.5 L3072.0 897.3 L3240.0 897.3 L3450.0 898.0 L3512.0 899.6 L3637.0 905.8"/>
<path d="M266.0 939.8 L521.0 938.0 L726.0 937.0 L1181.0 937.0 L1400.0 935.4 L1672.0 933.5 L1876.0 933.0"/>
<path d="M1988.0 931.8 L2100.0 931.8 L2420.0 933.2 L2548.0 935.4 L2616.0 936.7 L2800.0 937.3 L3033.0 936.2 L3093.0 937.2 L3150.0 937.0 L3254.8 937.0 L3255.4 938.2 L3310.7 938.2 L3311.3 939.4 L3359.6 939.6 L3370.1 941.9 L3363.1 944.8 L3343.3 945.4 L3342.7 946.6 L3325.8 947.2 L3324.7 948.9 L3304.9 951.2 L3252.5 952.3 L3230.0 956.0"/>
<path d="M3313.0 946.4 L3250.0 951.6"/>
<path d="M3300.0 948.6 L3250.0 953.0"/>
<path d="M2488.0 951.0 L2516.0 949.5"/>
</g>
<g class="lb" font-size="58.33" text-anchor="middle">
<text x="1251.7" y="481">210</text>
<text x="2932" y="483">210</text>
<text x="1614.3" y="639.4">210</text>
<text x="1614.3" y="710">230</text>
<text x="1614.8" y="787">250</text>
<text x="1614.7" y="894.9">273</text>
<text x="1614.7" y="917.2">279</text>
<text x="1932" y="953">290</text>
<text x="1158" y="978">300</text>
<text transform="translate(2283 194) rotate(-11)" x="0" y="20.5">210</text>
</g>
</g>
<g stroke="#000" stroke-width="6" fill="none" stroke-linecap="butt">
<path d="M266 110V958"/>
<path d="M263 955H3640"/>
<path d="M266 113.00H347"/>
<path d="M266 218.25H347"/>
<path d="M266 323.50H347"/>
<path d="M266 428.75H347"/>
<path d="M266 534.00H347"/>
<path d="M266 639.25H347"/>
<path d="M266 744.50H347"/>
<path d="M266 849.75H347"/>
<path d="M266 955.00H347"/>
<path d="M266.00 955V895.5"/>
<path d="M336.23 955V922.7"/>
<path d="M406.46 955V922.7"/>
<path d="M476.69 955V922.7"/>
<path d="M546.92 955V895.5"/>
<path d="M617.15 955V922.7"/>
<path d="M687.38 955V922.7"/>
<path d="M757.60 955V922.7"/>
<path d="M827.83 955V895.5"/>
<path d="M898.06 955V922.7"/>
<path d="M968.29 955V922.7"/>
<path d="M1038.52 955V922.7"/>
<path d="M1108.75 955V895.5"/>
<path d="M1178.98 955V922.7"/>
<path d="M1249.21 955V922.7"/>
<path d="M1319.44 955V922.7"/>
<path d="M1389.67 955V895.5"/>
<path d="M1459.90 955V922.7"/>
<path d="M1530.12 955V922.7"/>
<path d="M1600.35 955V922.7"/>
<path d="M1670.58 955V895.5"/>
<path d="M1740.81 955V922.7"/>
<path d="M1811.04 955V922.7"/>
<path d="M1881.27 955V922.7"/>
<path d="M1951.50 955V895.5"/>
<path d="M2021.73 955V922.7"/>
<path d="M2091.96 955V922.7"/>
<path d="M2162.19 955V922.7"/>
<path d="M2232.42 955V895.5"/>
<path d="M2302.65 955V922.7"/>
<path d="M2372.88 955V922.7"/>
<path d="M2443.10 955V922.7"/>
<path d="M2513.33 955V895.5"/>
<path d="M2583.56 955V922.7"/>
<path d="M2653.79 955V922.7"/>
<path d="M2724.02 955V922.7"/>
<path d="M2794.25 955V895.5"/>
<path d="M2864.48 955V922.7"/>
<path d="M2934.71 955V922.7"/>
<path d="M3004.94 955V922.7"/>
<path d="M3075.17 955V895.5"/>
<path d="M3145.40 955V922.7"/>
<path d="M3215.62 955V922.7"/>
<path d="M3285.85 955V922.7"/>
<path d="M3356.08 955V895.5"/>
<path d="M3426.31 955V922.7"/>
<path d="M3496.54 955V922.7"/>
<path d="M3566.77 955V922.7"/>
<path d="M3637.00 955V895.5"/>
</g>
<g class="dj" font-size="66.67" text-anchor="end">
<text x="232.5" y="137.20">28.2</text>
<text x="232.5" y="242.45">24.7</text>
<text x="232.5" y="347.70">21.3</text>
<text x="232.5" y="452.95">17.8</text>
<text x="232.5" y="558.20">14.4</text>
<text x="232.5" y="663.45">11.0</text>
<text x="232.5" y="768.70">7.58</text>
<text x="232.5" y="873.95">4.15</text>
<text x="232.5" y="979.20">0.71</text>
</g>
<g class="dj" font-size="75" text-anchor="middle">
<text x="266.00" y="1035.5">0</text>
<text x="546.92" y="1035.5">2</text>
<text x="827.83" y="1035.5">4</text>
<text x="1108.75" y="1035.5">6</text>
<text x="1389.67" y="1035.5">8</text>
<text x="1671.68" y="1035.5" letter-spacing="2.2">10</text>
<text x="1952.60" y="1035.5" letter-spacing="2.2">12</text>
<text x="2233.52" y="1035.5" letter-spacing="2.2">14</text>
<text x="2514.43" y="1035.5" letter-spacing="2.2">16</text>
<text x="2795.35" y="1035.5" letter-spacing="2.2">18</text>
<text x="3076.27" y="1035.5" letter-spacing="2.2">20</text>
<text x="3357.18" y="1035.5" letter-spacing="2.2">22</text>
<text x="3638.10" y="1035.5" letter-spacing="2.2">24</text>
</g>
<text class="dj" font-size="75" text-anchor="middle" letter-spacing="0.8" x="1952" y="1114.7">Time (UTC)</text>
<text class="dj" font-size="66.67" text-anchor="middle" transform="translate(36 534) rotate(-90)">Height AMSL (km)</text>
<text class="lb" font-size="100.8" text-anchor="middle" x="1951.4" y="78.6">Munich: 2025/11/14</text>
<rect x="266" y="1144" width="3371" height="56" fill="url(#cb)"/>
<g stroke="#000" stroke-width="6" fill="none">
<path d="M263 1200H3640"/>
<path d="M266.00 1200V1183"/>
<path d="M378.37 1200V1190"/>
<path d="M490.73 1200V1190"/>
<path d="M603.10 1200V1190"/>
<path d="M715.47 1200V1190"/>
<path d="M827.83 1200V1190"/>
<path d="M940.20 1200V1190"/>
<path d="M1052.57 1200V1190"/>
<path d="M1164.93 1200V1190"/>
<path d="M1277.30 1200V1190"/>
<path d="M1389.67 1200V1183"/>
<path d="M1502.03 1200V1190"/>
<path d="M1614.40 1200V1190"/>
<path d="M1726.77 1200V1190"/>
<path d="M1839.13 1200V1190"/>
<path d="M1951.50 1200V1190"/>
<path d="M2063.87 1200V1190"/>
<path d="M2176.23 1200V1190"/>
<path d="M2288.60 1200V1190"/>
<path d="M2400.97 1200V1190"/>
<path d="M2513.33 1200V1183"/>
<path d="M2625.70 1200V1190"/>
<path d="M2738.07 1200V1190"/>
<path d="M2850.43 1200V1190"/>
<path d="M2962.80 1200V1190"/>
<path d="M3075.17 1200V1190"/>
<path d="M3187.53 1200V1190"/>
<path d="M3299.90 1200V1190"/>
<path d="M3412.27 1200V1190"/>
<path d="M3524.63 1200V1190"/>
<path d="M3637.00 1200V1183"/>
</g>
<g class="dj" font-size="58.33">
<text x="179.1" y="1262" letter-spacing="0.6">Clear</text>
<text x="1301.6" y="1261.5" letter-spacing="1.3">Water</text>
<text x="2470.1" y="1261.5" letter-spacing="0.8">Ice</text>
<text x="3553.8" y="1262" letter-spacing="0.25">Other</text>
</g>
<rect x="249" y="1313" width="651" height="334.5" fill="#fff" stroke="#000" stroke-width="6"/>
<circle cx="287" cy="1384" r="17" fill="#32cd32"/>
<text class="dj" font-size="58.33" x="324" y="1405.5">FCI-OCA SL Wat</text>
<circle cx="287" cy="1470" r="14" fill="#fff" stroke="#32cd32" stroke-width="6.2"/>
<text class="dj" font-size="58.33" x="324" y="1492.5">FCI-OCA 2L Wat</text>
<path d="M271 1550.5L303 1582.5M271 1582.5L303 1550.5" stroke="#32cd32" stroke-width="5" fill="none"/>
<text class="dj" font-size="58.33" x="324" y="1588.5">OCA High Err Wat</text>
<rect x="1066" y="1313" width="546" height="228.70000000000005" fill="#fff" stroke="#000" stroke-width="6"/>
<circle cx="1104" cy="1384" r="17" fill="#0000ff"/>
<text class="dj" font-size="58.33" x="1141" y="1405.5">FCI-OCA SL Ice</text>
<circle cx="1104" cy="1470" r="14" fill="#fff" stroke="#0000ff" stroke-width="6.2"/>
<text class="dj" font-size="58.33" x="1141" y="1492.5">FCI-OCA 2L Ice</text>
<rect x="2328" y="1313" width="559.5999999999999" height="402" fill="#fff" stroke="#000" stroke-width="6"/>
<path d="M2366 1364L2383.3 1394H2348.7Z" fill="#ff0000"/>
<text class="dj" font-size="58.33" x="2403" y="1405.3">ACTRIS CBH</text>
<path d="M2366 1490.2L2383.3 1460.2H2348.7Z" fill="#ff0000"/>
<text class="dj" font-size="58.33" x="2403" y="1492">ACTRIS CTH</text>
<path d="M2366 1542.5L2379 1565.0H2353Z" fill="#fff" stroke="#ff0000" stroke-width="5.3"/>
<text class="dj" font-size="58.33" x="2403" y="1578.7">ACTRIS CBH BL</text>
<path d="M2366 1658.2L2379 1635.7H2353Z" fill="#fff" stroke="#ff0000" stroke-width="5"/>
<text class="dj" font-size="58.33" x="2403" y="1665.3">ACTRIS CTH BL</text>
</svg></body></html>
